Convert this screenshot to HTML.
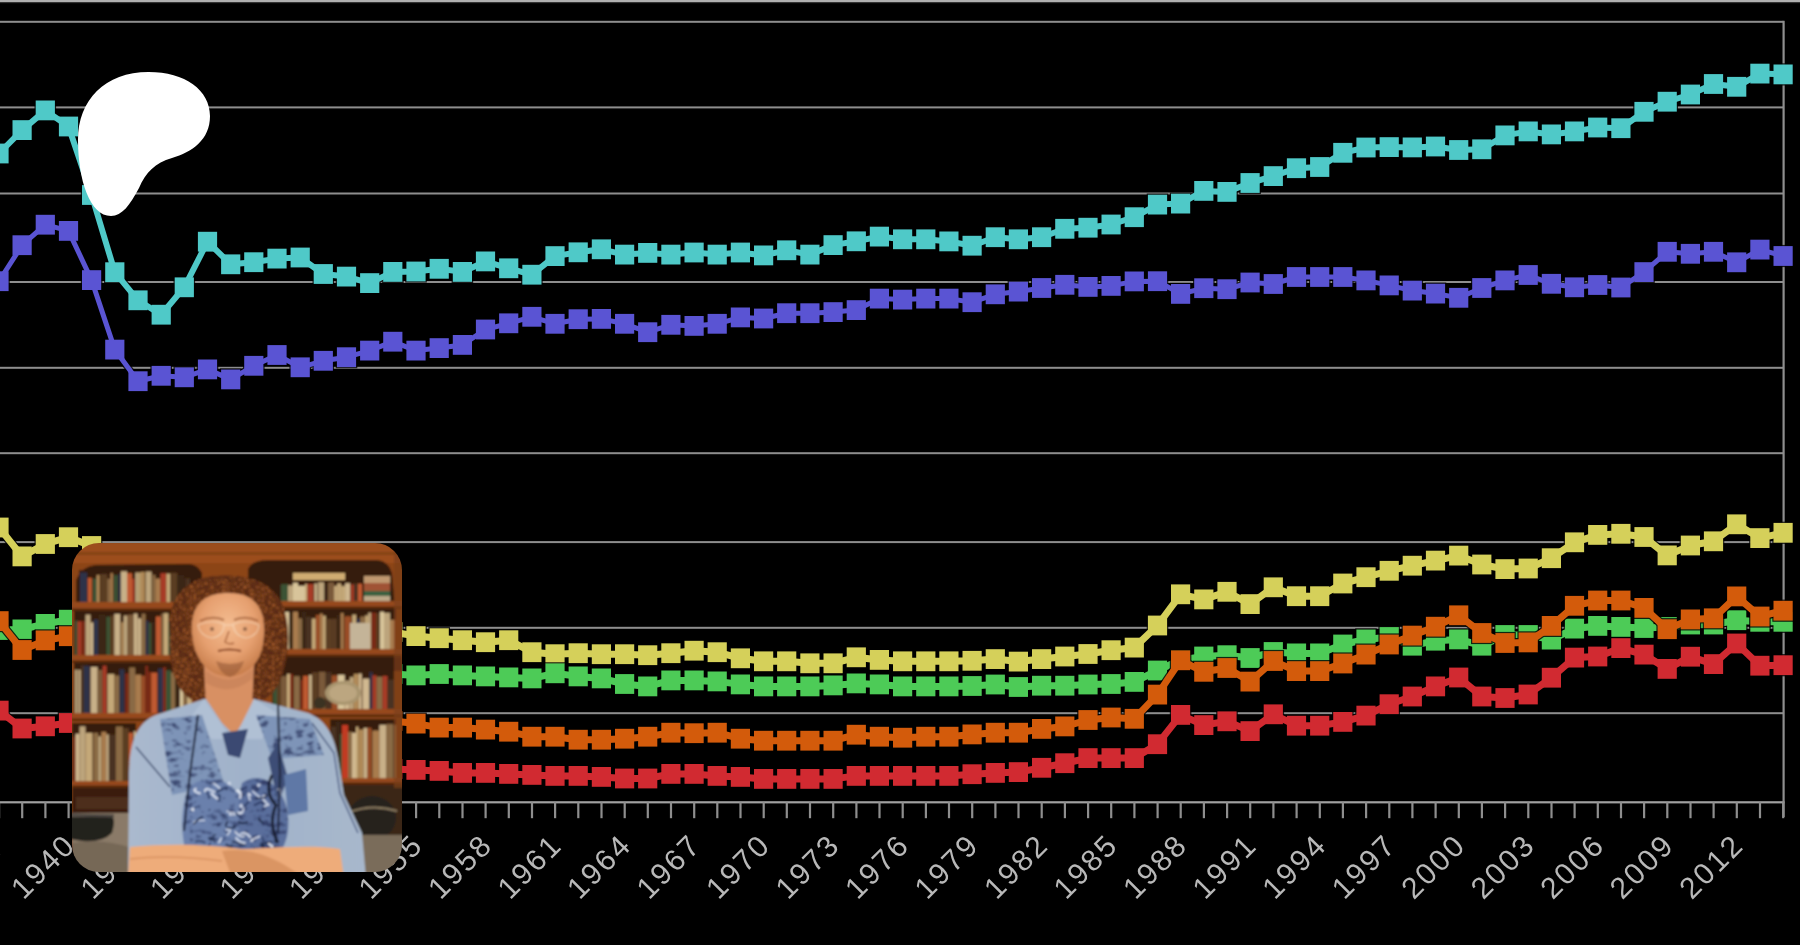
<!DOCTYPE html>
<html><head><meta charset="utf-8"><style>
html,body{margin:0;padding:0;background:#000;width:1800px;height:945px;overflow:hidden;position:relative}
</style></head><body>
<svg width="1800" height="945" viewBox="0 0 1800 945" style="position:absolute;left:0;top:0;filter:blur(0.6px)">
<rect x="0" y="0" width="1800" height="2.4" fill="#b0b0b0"/>
<rect x="0" y="2.4" width="1800" height="0.8" fill="#2a2a2a"/>
<rect x="0" y="20.8" width="1783.5" height="2" fill="#8e8e8e"/>
<rect x="0" y="106.4" width="1783.5" height="2" fill="#8e8e8e"/>
<rect x="0" y="192.5" width="1783.5" height="2" fill="#8e8e8e"/>
<rect x="0" y="281.0" width="1783.5" height="2" fill="#8e8e8e"/>
<rect x="0" y="366.8" width="1783.5" height="2" fill="#8e8e8e"/>
<rect x="0" y="452.2" width="1783.5" height="2" fill="#8e8e8e"/>
<rect x="0" y="541.1" width="1783.5" height="2" fill="#8e8e8e"/>
<rect x="0" y="626.8" width="1783.5" height="2" fill="#8e8e8e"/>
<rect x="0" y="712.2" width="1783.5" height="2" fill="#8e8e8e"/>
<rect x="0" y="801.2" width="1784.5" height="2.2" fill="#a0a0a0"/>
<rect x="1782.5" y="20.8" width="2.2" height="796.2" fill="#8e8e8e"/>
<rect x="-2.0" y="802.2" width="2.2" height="16" fill="#8e8e8e"/>
<rect x="21.1" y="802.2" width="2.2" height="16" fill="#8e8e8e"/>
<rect x="44.3" y="802.2" width="2.2" height="16" fill="#8e8e8e"/>
<rect x="67.5" y="802.2" width="2.2" height="16" fill="#8e8e8e"/>
<rect x="90.6" y="802.2" width="2.2" height="16" fill="#8e8e8e"/>
<rect x="113.8" y="802.2" width="2.2" height="16" fill="#8e8e8e"/>
<rect x="137.0" y="802.2" width="2.2" height="16" fill="#8e8e8e"/>
<rect x="160.2" y="802.2" width="2.2" height="16" fill="#8e8e8e"/>
<rect x="183.3" y="802.2" width="2.2" height="16" fill="#8e8e8e"/>
<rect x="206.5" y="802.2" width="2.2" height="16" fill="#8e8e8e"/>
<rect x="229.7" y="802.2" width="2.2" height="16" fill="#8e8e8e"/>
<rect x="252.8" y="802.2" width="2.2" height="16" fill="#8e8e8e"/>
<rect x="276.0" y="802.2" width="2.2" height="16" fill="#8e8e8e"/>
<rect x="299.2" y="802.2" width="2.2" height="16" fill="#8e8e8e"/>
<rect x="322.3" y="802.2" width="2.2" height="16" fill="#8e8e8e"/>
<rect x="345.5" y="802.2" width="2.2" height="16" fill="#8e8e8e"/>
<rect x="368.7" y="802.2" width="2.2" height="16" fill="#8e8e8e"/>
<rect x="391.9" y="802.2" width="2.2" height="16" fill="#8e8e8e"/>
<rect x="415.0" y="802.2" width="2.2" height="16" fill="#8e8e8e"/>
<rect x="438.2" y="802.2" width="2.2" height="16" fill="#8e8e8e"/>
<rect x="461.4" y="802.2" width="2.2" height="16" fill="#8e8e8e"/>
<rect x="484.5" y="802.2" width="2.2" height="16" fill="#8e8e8e"/>
<rect x="507.7" y="802.2" width="2.2" height="16" fill="#8e8e8e"/>
<rect x="530.9" y="802.2" width="2.2" height="16" fill="#8e8e8e"/>
<rect x="554.0" y="802.2" width="2.2" height="16" fill="#8e8e8e"/>
<rect x="577.2" y="802.2" width="2.2" height="16" fill="#8e8e8e"/>
<rect x="600.4" y="802.2" width="2.2" height="16" fill="#8e8e8e"/>
<rect x="623.6" y="802.2" width="2.2" height="16" fill="#8e8e8e"/>
<rect x="646.7" y="802.2" width="2.2" height="16" fill="#8e8e8e"/>
<rect x="669.9" y="802.2" width="2.2" height="16" fill="#8e8e8e"/>
<rect x="693.1" y="802.2" width="2.2" height="16" fill="#8e8e8e"/>
<rect x="716.2" y="802.2" width="2.2" height="16" fill="#8e8e8e"/>
<rect x="739.4" y="802.2" width="2.2" height="16" fill="#8e8e8e"/>
<rect x="762.6" y="802.2" width="2.2" height="16" fill="#8e8e8e"/>
<rect x="785.7" y="802.2" width="2.2" height="16" fill="#8e8e8e"/>
<rect x="808.9" y="802.2" width="2.2" height="16" fill="#8e8e8e"/>
<rect x="832.1" y="802.2" width="2.2" height="16" fill="#8e8e8e"/>
<rect x="855.3" y="802.2" width="2.2" height="16" fill="#8e8e8e"/>
<rect x="878.4" y="802.2" width="2.2" height="16" fill="#8e8e8e"/>
<rect x="901.6" y="802.2" width="2.2" height="16" fill="#8e8e8e"/>
<rect x="924.8" y="802.2" width="2.2" height="16" fill="#8e8e8e"/>
<rect x="947.9" y="802.2" width="2.2" height="16" fill="#8e8e8e"/>
<rect x="971.1" y="802.2" width="2.2" height="16" fill="#8e8e8e"/>
<rect x="994.3" y="802.2" width="2.2" height="16" fill="#8e8e8e"/>
<rect x="1017.4" y="802.2" width="2.2" height="16" fill="#8e8e8e"/>
<rect x="1040.6" y="802.2" width="2.2" height="16" fill="#8e8e8e"/>
<rect x="1063.8" y="802.2" width="2.2" height="16" fill="#8e8e8e"/>
<rect x="1087.0" y="802.2" width="2.2" height="16" fill="#8e8e8e"/>
<rect x="1110.1" y="802.2" width="2.2" height="16" fill="#8e8e8e"/>
<rect x="1133.3" y="802.2" width="2.2" height="16" fill="#8e8e8e"/>
<rect x="1156.5" y="802.2" width="2.2" height="16" fill="#8e8e8e"/>
<rect x="1179.6" y="802.2" width="2.2" height="16" fill="#8e8e8e"/>
<rect x="1202.8" y="802.2" width="2.2" height="16" fill="#8e8e8e"/>
<rect x="1226.0" y="802.2" width="2.2" height="16" fill="#8e8e8e"/>
<rect x="1249.1" y="802.2" width="2.2" height="16" fill="#8e8e8e"/>
<rect x="1272.3" y="802.2" width="2.2" height="16" fill="#8e8e8e"/>
<rect x="1295.5" y="802.2" width="2.2" height="16" fill="#8e8e8e"/>
<rect x="1318.7" y="802.2" width="2.2" height="16" fill="#8e8e8e"/>
<rect x="1341.8" y="802.2" width="2.2" height="16" fill="#8e8e8e"/>
<rect x="1365.0" y="802.2" width="2.2" height="16" fill="#8e8e8e"/>
<rect x="1388.2" y="802.2" width="2.2" height="16" fill="#8e8e8e"/>
<rect x="1411.3" y="802.2" width="2.2" height="16" fill="#8e8e8e"/>
<rect x="1434.5" y="802.2" width="2.2" height="16" fill="#8e8e8e"/>
<rect x="1457.7" y="802.2" width="2.2" height="16" fill="#8e8e8e"/>
<rect x="1480.8" y="802.2" width="2.2" height="16" fill="#8e8e8e"/>
<rect x="1504.0" y="802.2" width="2.2" height="16" fill="#8e8e8e"/>
<rect x="1527.2" y="802.2" width="2.2" height="16" fill="#8e8e8e"/>
<rect x="1550.4" y="802.2" width="2.2" height="16" fill="#8e8e8e"/>
<rect x="1573.5" y="802.2" width="2.2" height="16" fill="#8e8e8e"/>
<rect x="1596.7" y="802.2" width="2.2" height="16" fill="#8e8e8e"/>
<rect x="1619.9" y="802.2" width="2.2" height="16" fill="#8e8e8e"/>
<rect x="1643.0" y="802.2" width="2.2" height="16" fill="#8e8e8e"/>
<rect x="1666.2" y="802.2" width="2.2" height="16" fill="#8e8e8e"/>
<rect x="1689.4" y="802.2" width="2.2" height="16" fill="#8e8e8e"/>
<rect x="1712.5" y="802.2" width="2.2" height="16" fill="#8e8e8e"/>
<rect x="1735.7" y="802.2" width="2.2" height="16" fill="#8e8e8e"/>
<rect x="1758.9" y="802.2" width="2.2" height="16" fill="#8e8e8e"/>
<rect x="1782.1" y="802.2" width="2.2" height="16" fill="#8e8e8e"/>
<text x="0" y="0" transform="translate(-46.0,900.5) rotate(-45)" font-family="Liberation Sans" font-size="30" letter-spacing="2.4" fill="#b8b8b8">1937</text>
<text x="0" y="0" transform="translate(23.5,900.5) rotate(-45)" font-family="Liberation Sans" font-size="30" letter-spacing="2.4" fill="#b8b8b8">1940</text>
<text x="0" y="0" transform="translate(93.0,900.5) rotate(-45)" font-family="Liberation Sans" font-size="30" letter-spacing="2.4" fill="#b8b8b8">1943</text>
<text x="0" y="0" transform="translate(162.5,900.5) rotate(-45)" font-family="Liberation Sans" font-size="30" letter-spacing="2.4" fill="#b8b8b8">1946</text>
<text x="0" y="0" transform="translate(232.0,900.5) rotate(-45)" font-family="Liberation Sans" font-size="30" letter-spacing="2.4" fill="#b8b8b8">1949</text>
<text x="0" y="0" transform="translate(301.5,900.5) rotate(-45)" font-family="Liberation Sans" font-size="30" letter-spacing="2.4" fill="#b8b8b8">1952</text>
<text x="0" y="0" transform="translate(371.0,900.5) rotate(-45)" font-family="Liberation Sans" font-size="30" letter-spacing="2.4" fill="#b8b8b8">1955</text>
<text x="0" y="0" transform="translate(440.5,900.5) rotate(-45)" font-family="Liberation Sans" font-size="30" letter-spacing="2.4" fill="#b8b8b8">1958</text>
<text x="0" y="0" transform="translate(510.0,900.5) rotate(-45)" font-family="Liberation Sans" font-size="30" letter-spacing="2.4" fill="#b8b8b8">1961</text>
<text x="0" y="0" transform="translate(579.6,900.5) rotate(-45)" font-family="Liberation Sans" font-size="30" letter-spacing="2.4" fill="#b8b8b8">1964</text>
<text x="0" y="0" transform="translate(649.1,900.5) rotate(-45)" font-family="Liberation Sans" font-size="30" letter-spacing="2.4" fill="#b8b8b8">1967</text>
<text x="0" y="0" transform="translate(718.6,900.5) rotate(-45)" font-family="Liberation Sans" font-size="30" letter-spacing="2.4" fill="#b8b8b8">1970</text>
<text x="0" y="0" transform="translate(788.1,900.5) rotate(-45)" font-family="Liberation Sans" font-size="30" letter-spacing="2.4" fill="#b8b8b8">1973</text>
<text x="0" y="0" transform="translate(857.6,900.5) rotate(-45)" font-family="Liberation Sans" font-size="30" letter-spacing="2.4" fill="#b8b8b8">1976</text>
<text x="0" y="0" transform="translate(927.1,900.5) rotate(-45)" font-family="Liberation Sans" font-size="30" letter-spacing="2.4" fill="#b8b8b8">1979</text>
<text x="0" y="0" transform="translate(996.6,900.5) rotate(-45)" font-family="Liberation Sans" font-size="30" letter-spacing="2.4" fill="#b8b8b8">1982</text>
<text x="0" y="0" transform="translate(1066.1,900.5) rotate(-45)" font-family="Liberation Sans" font-size="30" letter-spacing="2.4" fill="#b8b8b8">1985</text>
<text x="0" y="0" transform="translate(1135.6,900.5) rotate(-45)" font-family="Liberation Sans" font-size="30" letter-spacing="2.4" fill="#b8b8b8">1988</text>
<text x="0" y="0" transform="translate(1205.1,900.5) rotate(-45)" font-family="Liberation Sans" font-size="30" letter-spacing="2.4" fill="#b8b8b8">1991</text>
<text x="0" y="0" transform="translate(1274.7,900.5) rotate(-45)" font-family="Liberation Sans" font-size="30" letter-spacing="2.4" fill="#b8b8b8">1994</text>
<text x="0" y="0" transform="translate(1344.2,900.5) rotate(-45)" font-family="Liberation Sans" font-size="30" letter-spacing="2.4" fill="#b8b8b8">1997</text>
<text x="0" y="0" transform="translate(1413.7,900.5) rotate(-45)" font-family="Liberation Sans" font-size="30" letter-spacing="2.4" fill="#b8b8b8">2000</text>
<text x="0" y="0" transform="translate(1483.2,900.5) rotate(-45)" font-family="Liberation Sans" font-size="30" letter-spacing="2.4" fill="#b8b8b8">2003</text>
<text x="0" y="0" transform="translate(1552.7,900.5) rotate(-45)" font-family="Liberation Sans" font-size="30" letter-spacing="2.4" fill="#b8b8b8">2006</text>
<text x="0" y="0" transform="translate(1622.2,900.5) rotate(-45)" font-family="Liberation Sans" font-size="30" letter-spacing="2.4" fill="#b8b8b8">2009</text>
<text x="0" y="0" transform="translate(1691.7,900.5) rotate(-45)" font-family="Liberation Sans" font-size="30" letter-spacing="2.4" fill="#b8b8b8">2012</text>
<g opacity="0.8"><polyline points="-1.0,527.5 22.1,556.4 45.3,544.0 68.5,537.2 91.6,546.0 114.8,562.0 138.0,567.8 161.2,573.7 184.3,579.5 207.5,585.3 230.7,591.2 253.8,597.0 277.0,602.8 300.2,608.7 323.3,614.5 346.5,620.3 369.7,626.2 392.9,632.0 416.0,636.1 439.2,638.2 462.4,640.2 485.5,642.2 508.7,640.2 531.9,652.2 555.0,654.2 578.2,653.2 601.4,654.2 624.6,654.2 647.7,655.2 670.9,653.2 694.1,650.7 717.2,652.2 740.4,658.3 763.6,661.3 786.7,661.3 809.9,663.3 833.1,663.3 856.3,657.3 879.4,659.9 902.6,661.3 925.8,661.3 948.9,661.3 972.1,660.8 995.3,659.1 1018.4,661.6 1041.6,659.1 1064.8,656.5 1088.0,654.0 1111.1,650.2 1134.3,647.6 1157.5,625.5 1180.6,594.3 1203.8,599.4 1227.0,591.8 1250.1,604.1 1273.3,587.3 1296.5,596.2 1319.7,596.2 1342.8,583.5 1366.0,577.2 1389.2,570.8 1412.3,565.7 1435.5,560.6 1458.7,555.6 1481.8,564.5 1505.0,569.1 1528.2,568.5 1551.4,558.2 1574.5,542.3 1597.7,534.9 1620.9,533.8 1644.0,537.0 1667.2,555.4 1690.4,545.5 1713.5,541.3 1736.7,524.3 1759.9,538.1 1783.1,532.8" fill="none" stroke="#000" stroke-width="9.4" stroke-linejoin="round"/>
<rect x="-11.8" y="516.4" width="21.6" height="22.2" fill="#000"/>
<rect x="11.3" y="545.3" width="21.6" height="22.2" fill="#000"/>
<rect x="34.5" y="532.9" width="21.6" height="22.2" fill="#000"/>
<rect x="57.7" y="526.1" width="21.6" height="22.2" fill="#000"/>
<rect x="80.8" y="534.9" width="21.6" height="22.2" fill="#000"/>
<rect x="104.0" y="550.9" width="21.6" height="22.2" fill="#000"/>
<rect x="127.2" y="556.7" width="21.6" height="22.2" fill="#000"/>
<rect x="150.4" y="562.6" width="21.6" height="22.2" fill="#000"/>
<rect x="173.5" y="568.4" width="21.6" height="22.2" fill="#000"/>
<rect x="196.7" y="574.2" width="21.6" height="22.2" fill="#000"/>
<rect x="219.9" y="580.1" width="21.6" height="22.2" fill="#000"/>
<rect x="243.0" y="585.9" width="21.6" height="22.2" fill="#000"/>
<rect x="266.2" y="591.7" width="21.6" height="22.2" fill="#000"/>
<rect x="289.4" y="597.6" width="21.6" height="22.2" fill="#000"/>
<rect x="312.5" y="603.4" width="21.6" height="22.2" fill="#000"/>
<rect x="335.7" y="609.2" width="21.6" height="22.2" fill="#000"/>
<rect x="358.9" y="615.1" width="21.6" height="22.2" fill="#000"/>
<rect x="382.1" y="620.9" width="21.6" height="22.2" fill="#000"/>
<rect x="405.2" y="625.0" width="21.6" height="22.2" fill="#000"/>
<rect x="428.4" y="627.1" width="21.6" height="22.2" fill="#000"/>
<rect x="451.6" y="629.1" width="21.6" height="22.2" fill="#000"/>
<rect x="474.7" y="631.1" width="21.6" height="22.2" fill="#000"/>
<rect x="497.9" y="629.1" width="21.6" height="22.2" fill="#000"/>
<rect x="521.1" y="641.1" width="21.6" height="22.2" fill="#000"/>
<rect x="544.2" y="643.1" width="21.6" height="22.2" fill="#000"/>
<rect x="567.4" y="642.1" width="21.6" height="22.2" fill="#000"/>
<rect x="590.6" y="643.1" width="21.6" height="22.2" fill="#000"/>
<rect x="613.8" y="643.1" width="21.6" height="22.2" fill="#000"/>
<rect x="636.9" y="644.1" width="21.6" height="22.2" fill="#000"/>
<rect x="660.1" y="642.1" width="21.6" height="22.2" fill="#000"/>
<rect x="683.3" y="639.6" width="21.6" height="22.2" fill="#000"/>
<rect x="706.4" y="641.1" width="21.6" height="22.2" fill="#000"/>
<rect x="729.6" y="647.2" width="21.6" height="22.2" fill="#000"/>
<rect x="752.8" y="650.2" width="21.6" height="22.2" fill="#000"/>
<rect x="775.9" y="650.2" width="21.6" height="22.2" fill="#000"/>
<rect x="799.1" y="652.2" width="21.6" height="22.2" fill="#000"/>
<rect x="822.3" y="652.2" width="21.6" height="22.2" fill="#000"/>
<rect x="845.5" y="646.2" width="21.6" height="22.2" fill="#000"/>
<rect x="868.6" y="648.8" width="21.6" height="22.2" fill="#000"/>
<rect x="891.8" y="650.2" width="21.6" height="22.2" fill="#000"/>
<rect x="915.0" y="650.2" width="21.6" height="22.2" fill="#000"/>
<rect x="938.1" y="650.2" width="21.6" height="22.2" fill="#000"/>
<rect x="961.3" y="649.7" width="21.6" height="22.2" fill="#000"/>
<rect x="984.5" y="648.0" width="21.6" height="22.2" fill="#000"/>
<rect x="1007.6" y="650.5" width="21.6" height="22.2" fill="#000"/>
<rect x="1030.8" y="648.0" width="21.6" height="22.2" fill="#000"/>
<rect x="1054.0" y="645.4" width="21.6" height="22.2" fill="#000"/>
<rect x="1077.2" y="642.9" width="21.6" height="22.2" fill="#000"/>
<rect x="1100.3" y="639.1" width="21.6" height="22.2" fill="#000"/>
<rect x="1123.5" y="636.5" width="21.6" height="22.2" fill="#000"/>
<rect x="1146.7" y="614.4" width="21.6" height="22.2" fill="#000"/>
<rect x="1169.8" y="583.2" width="21.6" height="22.2" fill="#000"/>
<rect x="1193.0" y="588.3" width="21.6" height="22.2" fill="#000"/>
<rect x="1216.2" y="580.7" width="21.6" height="22.2" fill="#000"/>
<rect x="1239.3" y="593.0" width="21.6" height="22.2" fill="#000"/>
<rect x="1262.5" y="576.2" width="21.6" height="22.2" fill="#000"/>
<rect x="1285.7" y="585.1" width="21.6" height="22.2" fill="#000"/>
<rect x="1308.9" y="585.1" width="21.6" height="22.2" fill="#000"/>
<rect x="1332.0" y="572.4" width="21.6" height="22.2" fill="#000"/>
<rect x="1355.2" y="566.1" width="21.6" height="22.2" fill="#000"/>
<rect x="1378.4" y="559.7" width="21.6" height="22.2" fill="#000"/>
<rect x="1401.5" y="554.6" width="21.6" height="22.2" fill="#000"/>
<rect x="1424.7" y="549.5" width="21.6" height="22.2" fill="#000"/>
<rect x="1447.9" y="544.5" width="21.6" height="22.2" fill="#000"/>
<rect x="1471.0" y="553.4" width="21.6" height="22.2" fill="#000"/>
<rect x="1494.2" y="558.0" width="21.6" height="22.2" fill="#000"/>
<rect x="1517.4" y="557.4" width="21.6" height="22.2" fill="#000"/>
<rect x="1540.6" y="547.1" width="21.6" height="22.2" fill="#000"/>
<rect x="1563.7" y="531.2" width="21.6" height="22.2" fill="#000"/>
<rect x="1586.9" y="523.8" width="21.6" height="22.2" fill="#000"/>
<rect x="1610.1" y="522.7" width="21.6" height="22.2" fill="#000"/>
<rect x="1633.2" y="525.9" width="21.6" height="22.2" fill="#000"/>
<rect x="1656.4" y="544.3" width="21.6" height="22.2" fill="#000"/>
<rect x="1679.6" y="534.4" width="21.6" height="22.2" fill="#000"/>
<rect x="1702.7" y="530.2" width="21.6" height="22.2" fill="#000"/>
<rect x="1725.9" y="513.2" width="21.6" height="22.2" fill="#000"/>
<rect x="1749.1" y="527.0" width="21.6" height="22.2" fill="#000"/>
<rect x="1772.3" y="521.7" width="21.6" height="22.2" fill="#000"/>
</g>
<polyline points="-1.0,527.5 22.1,556.4 45.3,544.0 68.5,537.2 91.6,546.0 114.8,562.0 138.0,567.8 161.2,573.7 184.3,579.5 207.5,585.3 230.7,591.2 253.8,597.0 277.0,602.8 300.2,608.7 323.3,614.5 346.5,620.3 369.7,626.2 392.9,632.0 416.0,636.1 439.2,638.2 462.4,640.2 485.5,642.2 508.7,640.2 531.9,652.2 555.0,654.2 578.2,653.2 601.4,654.2 624.6,654.2 647.7,655.2 670.9,653.2 694.1,650.7 717.2,652.2 740.4,658.3 763.6,661.3 786.7,661.3 809.9,663.3 833.1,663.3 856.3,657.3 879.4,659.9 902.6,661.3 925.8,661.3 948.9,661.3 972.1,660.8 995.3,659.1 1018.4,661.6 1041.6,659.1 1064.8,656.5 1088.0,654.0 1111.1,650.2 1134.3,647.6 1157.5,625.5 1180.6,594.3 1203.8,599.4 1227.0,591.8 1250.1,604.1 1273.3,587.3 1296.5,596.2 1319.7,596.2 1342.8,583.5 1366.0,577.2 1389.2,570.8 1412.3,565.7 1435.5,560.6 1458.7,555.6 1481.8,564.5 1505.0,569.1 1528.2,568.5 1551.4,558.2 1574.5,542.3 1597.7,534.9 1620.9,533.8 1644.0,537.0 1667.2,555.4 1690.4,545.5 1713.5,541.3 1736.7,524.3 1759.9,538.1 1783.1,532.8" fill="none" stroke="#d5d05a" stroke-width="7" stroke-linejoin="round"/>
<rect x="-10.6" y="517.6" width="19.2" height="19.8" fill="#d5d05a"/>
<rect x="12.5" y="546.5" width="19.2" height="19.8" fill="#d5d05a"/>
<rect x="35.7" y="534.1" width="19.2" height="19.8" fill="#d5d05a"/>
<rect x="58.9" y="527.3" width="19.2" height="19.8" fill="#d5d05a"/>
<rect x="82.0" y="536.1" width="19.2" height="19.8" fill="#d5d05a"/>
<rect x="105.2" y="552.1" width="19.2" height="19.8" fill="#d5d05a"/>
<rect x="128.4" y="557.9" width="19.2" height="19.8" fill="#d5d05a"/>
<rect x="151.6" y="563.8" width="19.2" height="19.8" fill="#d5d05a"/>
<rect x="174.7" y="569.6" width="19.2" height="19.8" fill="#d5d05a"/>
<rect x="197.9" y="575.4" width="19.2" height="19.8" fill="#d5d05a"/>
<rect x="221.1" y="581.3" width="19.2" height="19.8" fill="#d5d05a"/>
<rect x="244.2" y="587.1" width="19.2" height="19.8" fill="#d5d05a"/>
<rect x="267.4" y="592.9" width="19.2" height="19.8" fill="#d5d05a"/>
<rect x="290.6" y="598.8" width="19.2" height="19.8" fill="#d5d05a"/>
<rect x="313.7" y="604.6" width="19.2" height="19.8" fill="#d5d05a"/>
<rect x="336.9" y="610.4" width="19.2" height="19.8" fill="#d5d05a"/>
<rect x="360.1" y="616.3" width="19.2" height="19.8" fill="#d5d05a"/>
<rect x="383.2" y="622.1" width="19.2" height="19.8" fill="#d5d05a"/>
<rect x="406.4" y="626.2" width="19.2" height="19.8" fill="#d5d05a"/>
<rect x="429.6" y="628.3" width="19.2" height="19.8" fill="#d5d05a"/>
<rect x="452.8" y="630.3" width="19.2" height="19.8" fill="#d5d05a"/>
<rect x="475.9" y="632.3" width="19.2" height="19.8" fill="#d5d05a"/>
<rect x="499.1" y="630.3" width="19.2" height="19.8" fill="#d5d05a"/>
<rect x="522.3" y="642.3" width="19.2" height="19.8" fill="#d5d05a"/>
<rect x="545.4" y="644.3" width="19.2" height="19.8" fill="#d5d05a"/>
<rect x="568.6" y="643.3" width="19.2" height="19.8" fill="#d5d05a"/>
<rect x="591.8" y="644.3" width="19.2" height="19.8" fill="#d5d05a"/>
<rect x="615.0" y="644.3" width="19.2" height="19.8" fill="#d5d05a"/>
<rect x="638.1" y="645.3" width="19.2" height="19.8" fill="#d5d05a"/>
<rect x="661.3" y="643.3" width="19.2" height="19.8" fill="#d5d05a"/>
<rect x="684.5" y="640.8" width="19.2" height="19.8" fill="#d5d05a"/>
<rect x="707.6" y="642.3" width="19.2" height="19.8" fill="#d5d05a"/>
<rect x="730.8" y="648.4" width="19.2" height="19.8" fill="#d5d05a"/>
<rect x="754.0" y="651.4" width="19.2" height="19.8" fill="#d5d05a"/>
<rect x="777.1" y="651.4" width="19.2" height="19.8" fill="#d5d05a"/>
<rect x="800.3" y="653.4" width="19.2" height="19.8" fill="#d5d05a"/>
<rect x="823.5" y="653.4" width="19.2" height="19.8" fill="#d5d05a"/>
<rect x="846.7" y="647.4" width="19.2" height="19.8" fill="#d5d05a"/>
<rect x="869.8" y="650.0" width="19.2" height="19.8" fill="#d5d05a"/>
<rect x="893.0" y="651.4" width="19.2" height="19.8" fill="#d5d05a"/>
<rect x="916.2" y="651.4" width="19.2" height="19.8" fill="#d5d05a"/>
<rect x="939.3" y="651.4" width="19.2" height="19.8" fill="#d5d05a"/>
<rect x="962.5" y="650.9" width="19.2" height="19.8" fill="#d5d05a"/>
<rect x="985.7" y="649.2" width="19.2" height="19.8" fill="#d5d05a"/>
<rect x="1008.8" y="651.7" width="19.2" height="19.8" fill="#d5d05a"/>
<rect x="1032.0" y="649.2" width="19.2" height="19.8" fill="#d5d05a"/>
<rect x="1055.2" y="646.6" width="19.2" height="19.8" fill="#d5d05a"/>
<rect x="1078.4" y="644.1" width="19.2" height="19.8" fill="#d5d05a"/>
<rect x="1101.5" y="640.3" width="19.2" height="19.8" fill="#d5d05a"/>
<rect x="1124.7" y="637.7" width="19.2" height="19.8" fill="#d5d05a"/>
<rect x="1147.9" y="615.6" width="19.2" height="19.8" fill="#d5d05a"/>
<rect x="1171.0" y="584.4" width="19.2" height="19.8" fill="#d5d05a"/>
<rect x="1194.2" y="589.5" width="19.2" height="19.8" fill="#d5d05a"/>
<rect x="1217.4" y="581.9" width="19.2" height="19.8" fill="#d5d05a"/>
<rect x="1240.5" y="594.2" width="19.2" height="19.8" fill="#d5d05a"/>
<rect x="1263.7" y="577.4" width="19.2" height="19.8" fill="#d5d05a"/>
<rect x="1286.9" y="586.3" width="19.2" height="19.8" fill="#d5d05a"/>
<rect x="1310.1" y="586.3" width="19.2" height="19.8" fill="#d5d05a"/>
<rect x="1333.2" y="573.6" width="19.2" height="19.8" fill="#d5d05a"/>
<rect x="1356.4" y="567.3" width="19.2" height="19.8" fill="#d5d05a"/>
<rect x="1379.6" y="560.9" width="19.2" height="19.8" fill="#d5d05a"/>
<rect x="1402.7" y="555.8" width="19.2" height="19.8" fill="#d5d05a"/>
<rect x="1425.9" y="550.7" width="19.2" height="19.8" fill="#d5d05a"/>
<rect x="1449.1" y="545.7" width="19.2" height="19.8" fill="#d5d05a"/>
<rect x="1472.2" y="554.6" width="19.2" height="19.8" fill="#d5d05a"/>
<rect x="1495.4" y="559.2" width="19.2" height="19.8" fill="#d5d05a"/>
<rect x="1518.6" y="558.6" width="19.2" height="19.8" fill="#d5d05a"/>
<rect x="1541.8" y="548.3" width="19.2" height="19.8" fill="#d5d05a"/>
<rect x="1564.9" y="532.4" width="19.2" height="19.8" fill="#d5d05a"/>
<rect x="1588.1" y="525.0" width="19.2" height="19.8" fill="#d5d05a"/>
<rect x="1611.3" y="523.9" width="19.2" height="19.8" fill="#d5d05a"/>
<rect x="1634.4" y="527.1" width="19.2" height="19.8" fill="#d5d05a"/>
<rect x="1657.6" y="545.5" width="19.2" height="19.8" fill="#d5d05a"/>
<rect x="1680.8" y="535.6" width="19.2" height="19.8" fill="#d5d05a"/>
<rect x="1703.9" y="531.4" width="19.2" height="19.8" fill="#d5d05a"/>
<rect x="1727.1" y="514.4" width="19.2" height="19.8" fill="#d5d05a"/>
<rect x="1750.3" y="528.2" width="19.2" height="19.8" fill="#d5d05a"/>
<rect x="1773.5" y="522.9" width="19.2" height="19.8" fill="#d5d05a"/>
<g opacity="0.8"><polyline points="-1.0,630.0 22.1,629.4 45.3,623.9 68.5,619.7 91.6,623.6 114.8,627.5 138.0,631.3 161.2,635.2 184.3,639.1 207.5,643.0 230.7,646.9 253.8,650.7 277.0,654.6 300.2,658.5 323.3,662.4 346.5,666.2 369.7,670.1 392.9,674.0 416.0,675.4 439.2,674.0 462.4,675.4 485.5,676.4 508.7,677.4 531.9,678.4 555.0,673.3 578.2,676.4 601.4,678.4 624.6,684.0 647.7,686.4 670.9,680.4 694.1,680.4 717.2,681.4 740.4,684.4 763.6,686.4 786.7,686.4 809.9,686.4 833.1,685.4 856.3,683.4 879.4,684.4 902.6,686.4 925.8,686.4 948.9,686.4 972.1,686.0 995.3,684.5 1018.4,687.0 1041.6,685.7 1064.8,685.7 1088.0,684.5 1111.1,684.0 1134.3,681.9 1157.5,670.5 1180.6,660.0 1203.8,656.5 1227.0,655.2 1250.1,658.0 1273.3,652.0 1296.5,653.4 1319.7,653.4 1342.8,644.5 1366.0,639.4 1389.2,637.0 1412.3,645.7 1435.5,640.7 1458.7,639.4 1481.8,645.7 1505.0,635.0 1528.2,635.0 1551.4,639.6 1574.5,628.6 1597.7,625.9 1620.9,626.9 1644.0,628.0 1667.2,627.0 1690.4,624.5 1713.5,624.5 1736.7,620.2 1759.9,621.8 1783.1,621.8" fill="none" stroke="#000" stroke-width="9.4" stroke-linejoin="round"/>
<rect x="-11.8" y="618.9" width="21.6" height="22.2" fill="#000"/>
<rect x="11.3" y="618.3" width="21.6" height="22.2" fill="#000"/>
<rect x="34.5" y="612.8" width="21.6" height="22.2" fill="#000"/>
<rect x="57.7" y="608.6" width="21.6" height="22.2" fill="#000"/>
<rect x="80.8" y="612.5" width="21.6" height="22.2" fill="#000"/>
<rect x="104.0" y="616.4" width="21.6" height="22.2" fill="#000"/>
<rect x="127.2" y="620.2" width="21.6" height="22.2" fill="#000"/>
<rect x="150.4" y="624.1" width="21.6" height="22.2" fill="#000"/>
<rect x="173.5" y="628.0" width="21.6" height="22.2" fill="#000"/>
<rect x="196.7" y="631.9" width="21.6" height="22.2" fill="#000"/>
<rect x="219.9" y="635.8" width="21.6" height="22.2" fill="#000"/>
<rect x="243.0" y="639.6" width="21.6" height="22.2" fill="#000"/>
<rect x="266.2" y="643.5" width="21.6" height="22.2" fill="#000"/>
<rect x="289.4" y="647.4" width="21.6" height="22.2" fill="#000"/>
<rect x="312.5" y="651.3" width="21.6" height="22.2" fill="#000"/>
<rect x="335.7" y="655.1" width="21.6" height="22.2" fill="#000"/>
<rect x="358.9" y="659.0" width="21.6" height="22.2" fill="#000"/>
<rect x="382.1" y="662.9" width="21.6" height="22.2" fill="#000"/>
<rect x="405.2" y="664.3" width="21.6" height="22.2" fill="#000"/>
<rect x="428.4" y="662.9" width="21.6" height="22.2" fill="#000"/>
<rect x="451.6" y="664.3" width="21.6" height="22.2" fill="#000"/>
<rect x="474.7" y="665.3" width="21.6" height="22.2" fill="#000"/>
<rect x="497.9" y="666.3" width="21.6" height="22.2" fill="#000"/>
<rect x="521.1" y="667.3" width="21.6" height="22.2" fill="#000"/>
<rect x="544.2" y="662.2" width="21.6" height="22.2" fill="#000"/>
<rect x="567.4" y="665.3" width="21.6" height="22.2" fill="#000"/>
<rect x="590.6" y="667.3" width="21.6" height="22.2" fill="#000"/>
<rect x="613.8" y="672.9" width="21.6" height="22.2" fill="#000"/>
<rect x="636.9" y="675.3" width="21.6" height="22.2" fill="#000"/>
<rect x="660.1" y="669.3" width="21.6" height="22.2" fill="#000"/>
<rect x="683.3" y="669.3" width="21.6" height="22.2" fill="#000"/>
<rect x="706.4" y="670.3" width="21.6" height="22.2" fill="#000"/>
<rect x="729.6" y="673.3" width="21.6" height="22.2" fill="#000"/>
<rect x="752.8" y="675.3" width="21.6" height="22.2" fill="#000"/>
<rect x="775.9" y="675.3" width="21.6" height="22.2" fill="#000"/>
<rect x="799.1" y="675.3" width="21.6" height="22.2" fill="#000"/>
<rect x="822.3" y="674.3" width="21.6" height="22.2" fill="#000"/>
<rect x="845.5" y="672.3" width="21.6" height="22.2" fill="#000"/>
<rect x="868.6" y="673.3" width="21.6" height="22.2" fill="#000"/>
<rect x="891.8" y="675.3" width="21.6" height="22.2" fill="#000"/>
<rect x="915.0" y="675.3" width="21.6" height="22.2" fill="#000"/>
<rect x="938.1" y="675.3" width="21.6" height="22.2" fill="#000"/>
<rect x="961.3" y="674.9" width="21.6" height="22.2" fill="#000"/>
<rect x="984.5" y="673.4" width="21.6" height="22.2" fill="#000"/>
<rect x="1007.6" y="675.9" width="21.6" height="22.2" fill="#000"/>
<rect x="1030.8" y="674.6" width="21.6" height="22.2" fill="#000"/>
<rect x="1054.0" y="674.6" width="21.6" height="22.2" fill="#000"/>
<rect x="1077.2" y="673.4" width="21.6" height="22.2" fill="#000"/>
<rect x="1100.3" y="672.9" width="21.6" height="22.2" fill="#000"/>
<rect x="1123.5" y="670.8" width="21.6" height="22.2" fill="#000"/>
<rect x="1146.7" y="659.4" width="21.6" height="22.2" fill="#000"/>
<rect x="1169.8" y="648.9" width="21.6" height="22.2" fill="#000"/>
<rect x="1193.0" y="645.4" width="21.6" height="22.2" fill="#000"/>
<rect x="1216.2" y="644.1" width="21.6" height="22.2" fill="#000"/>
<rect x="1239.3" y="646.9" width="21.6" height="22.2" fill="#000"/>
<rect x="1262.5" y="640.9" width="21.6" height="22.2" fill="#000"/>
<rect x="1285.7" y="642.3" width="21.6" height="22.2" fill="#000"/>
<rect x="1308.9" y="642.3" width="21.6" height="22.2" fill="#000"/>
<rect x="1332.0" y="633.4" width="21.6" height="22.2" fill="#000"/>
<rect x="1355.2" y="628.3" width="21.6" height="22.2" fill="#000"/>
<rect x="1378.4" y="625.9" width="21.6" height="22.2" fill="#000"/>
<rect x="1401.5" y="634.6" width="21.6" height="22.2" fill="#000"/>
<rect x="1424.7" y="629.6" width="21.6" height="22.2" fill="#000"/>
<rect x="1447.9" y="628.3" width="21.6" height="22.2" fill="#000"/>
<rect x="1471.0" y="634.6" width="21.6" height="22.2" fill="#000"/>
<rect x="1494.2" y="623.9" width="21.6" height="22.2" fill="#000"/>
<rect x="1517.4" y="623.9" width="21.6" height="22.2" fill="#000"/>
<rect x="1540.6" y="628.5" width="21.6" height="22.2" fill="#000"/>
<rect x="1563.7" y="617.5" width="21.6" height="22.2" fill="#000"/>
<rect x="1586.9" y="614.8" width="21.6" height="22.2" fill="#000"/>
<rect x="1610.1" y="615.8" width="21.6" height="22.2" fill="#000"/>
<rect x="1633.2" y="616.9" width="21.6" height="22.2" fill="#000"/>
<rect x="1656.4" y="615.9" width="21.6" height="22.2" fill="#000"/>
<rect x="1679.6" y="613.4" width="21.6" height="22.2" fill="#000"/>
<rect x="1702.7" y="613.4" width="21.6" height="22.2" fill="#000"/>
<rect x="1725.9" y="609.1" width="21.6" height="22.2" fill="#000"/>
<rect x="1749.1" y="610.7" width="21.6" height="22.2" fill="#000"/>
<rect x="1772.3" y="610.7" width="21.6" height="22.2" fill="#000"/>
</g>
<polyline points="-1.0,630.0 22.1,629.4 45.3,623.9 68.5,619.7 91.6,623.6 114.8,627.5 138.0,631.3 161.2,635.2 184.3,639.1 207.5,643.0 230.7,646.9 253.8,650.7 277.0,654.6 300.2,658.5 323.3,662.4 346.5,666.2 369.7,670.1 392.9,674.0 416.0,675.4 439.2,674.0 462.4,675.4 485.5,676.4 508.7,677.4 531.9,678.4 555.0,673.3 578.2,676.4 601.4,678.4 624.6,684.0 647.7,686.4 670.9,680.4 694.1,680.4 717.2,681.4 740.4,684.4 763.6,686.4 786.7,686.4 809.9,686.4 833.1,685.4 856.3,683.4 879.4,684.4 902.6,686.4 925.8,686.4 948.9,686.4 972.1,686.0 995.3,684.5 1018.4,687.0 1041.6,685.7 1064.8,685.7 1088.0,684.5 1111.1,684.0 1134.3,681.9 1157.5,670.5 1180.6,660.0 1203.8,656.5 1227.0,655.2 1250.1,658.0 1273.3,652.0 1296.5,653.4 1319.7,653.4 1342.8,644.5 1366.0,639.4 1389.2,637.0 1412.3,645.7 1435.5,640.7 1458.7,639.4 1481.8,645.7 1505.0,635.0 1528.2,635.0 1551.4,639.6 1574.5,628.6 1597.7,625.9 1620.9,626.9 1644.0,628.0 1667.2,627.0 1690.4,624.5 1713.5,624.5 1736.7,620.2 1759.9,621.8 1783.1,621.8" fill="none" stroke="#4dcb57" stroke-width="7" stroke-linejoin="round"/>
<rect x="-10.6" y="620.1" width="19.2" height="19.8" fill="#4dcb57"/>
<rect x="12.5" y="619.5" width="19.2" height="19.8" fill="#4dcb57"/>
<rect x="35.7" y="614.0" width="19.2" height="19.8" fill="#4dcb57"/>
<rect x="58.9" y="609.8" width="19.2" height="19.8" fill="#4dcb57"/>
<rect x="82.0" y="613.7" width="19.2" height="19.8" fill="#4dcb57"/>
<rect x="105.2" y="617.6" width="19.2" height="19.8" fill="#4dcb57"/>
<rect x="128.4" y="621.4" width="19.2" height="19.8" fill="#4dcb57"/>
<rect x="151.6" y="625.3" width="19.2" height="19.8" fill="#4dcb57"/>
<rect x="174.7" y="629.2" width="19.2" height="19.8" fill="#4dcb57"/>
<rect x="197.9" y="633.1" width="19.2" height="19.8" fill="#4dcb57"/>
<rect x="221.1" y="637.0" width="19.2" height="19.8" fill="#4dcb57"/>
<rect x="244.2" y="640.8" width="19.2" height="19.8" fill="#4dcb57"/>
<rect x="267.4" y="644.7" width="19.2" height="19.8" fill="#4dcb57"/>
<rect x="290.6" y="648.6" width="19.2" height="19.8" fill="#4dcb57"/>
<rect x="313.7" y="652.5" width="19.2" height="19.8" fill="#4dcb57"/>
<rect x="336.9" y="656.3" width="19.2" height="19.8" fill="#4dcb57"/>
<rect x="360.1" y="660.2" width="19.2" height="19.8" fill="#4dcb57"/>
<rect x="383.2" y="664.1" width="19.2" height="19.8" fill="#4dcb57"/>
<rect x="406.4" y="665.5" width="19.2" height="19.8" fill="#4dcb57"/>
<rect x="429.6" y="664.1" width="19.2" height="19.8" fill="#4dcb57"/>
<rect x="452.8" y="665.5" width="19.2" height="19.8" fill="#4dcb57"/>
<rect x="475.9" y="666.5" width="19.2" height="19.8" fill="#4dcb57"/>
<rect x="499.1" y="667.5" width="19.2" height="19.8" fill="#4dcb57"/>
<rect x="522.3" y="668.5" width="19.2" height="19.8" fill="#4dcb57"/>
<rect x="545.4" y="663.4" width="19.2" height="19.8" fill="#4dcb57"/>
<rect x="568.6" y="666.5" width="19.2" height="19.8" fill="#4dcb57"/>
<rect x="591.8" y="668.5" width="19.2" height="19.8" fill="#4dcb57"/>
<rect x="615.0" y="674.1" width="19.2" height="19.8" fill="#4dcb57"/>
<rect x="638.1" y="676.5" width="19.2" height="19.8" fill="#4dcb57"/>
<rect x="661.3" y="670.5" width="19.2" height="19.8" fill="#4dcb57"/>
<rect x="684.5" y="670.5" width="19.2" height="19.8" fill="#4dcb57"/>
<rect x="707.6" y="671.5" width="19.2" height="19.8" fill="#4dcb57"/>
<rect x="730.8" y="674.5" width="19.2" height="19.8" fill="#4dcb57"/>
<rect x="754.0" y="676.5" width="19.2" height="19.8" fill="#4dcb57"/>
<rect x="777.1" y="676.5" width="19.2" height="19.8" fill="#4dcb57"/>
<rect x="800.3" y="676.5" width="19.2" height="19.8" fill="#4dcb57"/>
<rect x="823.5" y="675.5" width="19.2" height="19.8" fill="#4dcb57"/>
<rect x="846.7" y="673.5" width="19.2" height="19.8" fill="#4dcb57"/>
<rect x="869.8" y="674.5" width="19.2" height="19.8" fill="#4dcb57"/>
<rect x="893.0" y="676.5" width="19.2" height="19.8" fill="#4dcb57"/>
<rect x="916.2" y="676.5" width="19.2" height="19.8" fill="#4dcb57"/>
<rect x="939.3" y="676.5" width="19.2" height="19.8" fill="#4dcb57"/>
<rect x="962.5" y="676.1" width="19.2" height="19.8" fill="#4dcb57"/>
<rect x="985.7" y="674.6" width="19.2" height="19.8" fill="#4dcb57"/>
<rect x="1008.8" y="677.1" width="19.2" height="19.8" fill="#4dcb57"/>
<rect x="1032.0" y="675.8" width="19.2" height="19.8" fill="#4dcb57"/>
<rect x="1055.2" y="675.8" width="19.2" height="19.8" fill="#4dcb57"/>
<rect x="1078.4" y="674.6" width="19.2" height="19.8" fill="#4dcb57"/>
<rect x="1101.5" y="674.1" width="19.2" height="19.8" fill="#4dcb57"/>
<rect x="1124.7" y="672.0" width="19.2" height="19.8" fill="#4dcb57"/>
<rect x="1147.9" y="660.6" width="19.2" height="19.8" fill="#4dcb57"/>
<rect x="1171.0" y="650.1" width="19.2" height="19.8" fill="#4dcb57"/>
<rect x="1194.2" y="646.6" width="19.2" height="19.8" fill="#4dcb57"/>
<rect x="1217.4" y="645.3" width="19.2" height="19.8" fill="#4dcb57"/>
<rect x="1240.5" y="648.1" width="19.2" height="19.8" fill="#4dcb57"/>
<rect x="1263.7" y="642.1" width="19.2" height="19.8" fill="#4dcb57"/>
<rect x="1286.9" y="643.5" width="19.2" height="19.8" fill="#4dcb57"/>
<rect x="1310.1" y="643.5" width="19.2" height="19.8" fill="#4dcb57"/>
<rect x="1333.2" y="634.6" width="19.2" height="19.8" fill="#4dcb57"/>
<rect x="1356.4" y="629.5" width="19.2" height="19.8" fill="#4dcb57"/>
<rect x="1379.6" y="627.1" width="19.2" height="19.8" fill="#4dcb57"/>
<rect x="1402.7" y="635.8" width="19.2" height="19.8" fill="#4dcb57"/>
<rect x="1425.9" y="630.8" width="19.2" height="19.8" fill="#4dcb57"/>
<rect x="1449.1" y="629.5" width="19.2" height="19.8" fill="#4dcb57"/>
<rect x="1472.2" y="635.8" width="19.2" height="19.8" fill="#4dcb57"/>
<rect x="1495.4" y="625.1" width="19.2" height="19.8" fill="#4dcb57"/>
<rect x="1518.6" y="625.1" width="19.2" height="19.8" fill="#4dcb57"/>
<rect x="1541.8" y="629.7" width="19.2" height="19.8" fill="#4dcb57"/>
<rect x="1564.9" y="618.7" width="19.2" height="19.8" fill="#4dcb57"/>
<rect x="1588.1" y="616.0" width="19.2" height="19.8" fill="#4dcb57"/>
<rect x="1611.3" y="617.0" width="19.2" height="19.8" fill="#4dcb57"/>
<rect x="1634.4" y="618.1" width="19.2" height="19.8" fill="#4dcb57"/>
<rect x="1657.6" y="617.1" width="19.2" height="19.8" fill="#4dcb57"/>
<rect x="1680.8" y="614.6" width="19.2" height="19.8" fill="#4dcb57"/>
<rect x="1703.9" y="614.6" width="19.2" height="19.8" fill="#4dcb57"/>
<rect x="1727.1" y="610.3" width="19.2" height="19.8" fill="#4dcb57"/>
<rect x="1750.3" y="611.9" width="19.2" height="19.8" fill="#4dcb57"/>
<rect x="1773.5" y="611.9" width="19.2" height="19.8" fill="#4dcb57"/>
<g opacity="0.8"><polyline points="-1.0,621.1 22.1,650.0 45.3,640.4 68.5,636.2 91.6,642.3 114.8,648.3 138.0,654.4 161.2,660.4 184.3,666.5 207.5,672.5 230.7,678.6 253.8,684.7 277.0,690.7 300.2,696.8 323.3,702.8 346.5,708.9 369.7,714.9 392.9,721.0 416.0,723.6 439.2,727.6 462.4,727.6 485.5,729.6 508.7,731.7 531.9,736.7 555.0,736.7 578.2,739.7 601.4,739.7 624.6,738.7 647.7,736.7 670.9,732.7 694.1,733.2 717.2,732.7 740.4,738.7 763.6,740.7 786.7,740.7 809.9,740.7 833.1,740.7 856.3,734.7 879.4,736.7 902.6,737.7 925.8,736.7 948.9,736.7 972.1,734.4 995.3,732.7 1018.4,732.7 1041.6,728.9 1064.8,726.4 1088.0,720.0 1111.1,717.5 1134.3,718.8 1157.5,694.6 1180.6,660.3 1203.8,671.8 1227.0,668.0 1250.1,681.6 1273.3,661.0 1296.5,671.1 1319.7,671.1 1342.8,663.5 1366.0,654.6 1389.2,644.5 1412.3,635.6 1435.5,626.7 1458.7,615.3 1481.8,633.0 1505.0,643.0 1528.2,642.4 1551.4,625.9 1574.5,605.8 1597.7,600.5 1620.9,600.5 1644.0,607.9 1667.2,629.2 1690.4,619.4 1713.5,618.3 1736.7,596.4 1759.9,616.5 1783.1,610.7" fill="none" stroke="#000" stroke-width="9.4" stroke-linejoin="round"/>
<rect x="-11.8" y="610.0" width="21.6" height="22.2" fill="#000"/>
<rect x="11.3" y="638.9" width="21.6" height="22.2" fill="#000"/>
<rect x="34.5" y="629.3" width="21.6" height="22.2" fill="#000"/>
<rect x="57.7" y="625.1" width="21.6" height="22.2" fill="#000"/>
<rect x="80.8" y="631.2" width="21.6" height="22.2" fill="#000"/>
<rect x="104.0" y="637.2" width="21.6" height="22.2" fill="#000"/>
<rect x="127.2" y="643.3" width="21.6" height="22.2" fill="#000"/>
<rect x="150.4" y="649.3" width="21.6" height="22.2" fill="#000"/>
<rect x="173.5" y="655.4" width="21.6" height="22.2" fill="#000"/>
<rect x="196.7" y="661.4" width="21.6" height="22.2" fill="#000"/>
<rect x="219.9" y="667.5" width="21.6" height="22.2" fill="#000"/>
<rect x="243.0" y="673.6" width="21.6" height="22.2" fill="#000"/>
<rect x="266.2" y="679.6" width="21.6" height="22.2" fill="#000"/>
<rect x="289.4" y="685.7" width="21.6" height="22.2" fill="#000"/>
<rect x="312.5" y="691.7" width="21.6" height="22.2" fill="#000"/>
<rect x="335.7" y="697.8" width="21.6" height="22.2" fill="#000"/>
<rect x="358.9" y="703.8" width="21.6" height="22.2" fill="#000"/>
<rect x="382.1" y="709.9" width="21.6" height="22.2" fill="#000"/>
<rect x="405.2" y="712.5" width="21.6" height="22.2" fill="#000"/>
<rect x="428.4" y="716.5" width="21.6" height="22.2" fill="#000"/>
<rect x="451.6" y="716.5" width="21.6" height="22.2" fill="#000"/>
<rect x="474.7" y="718.5" width="21.6" height="22.2" fill="#000"/>
<rect x="497.9" y="720.6" width="21.6" height="22.2" fill="#000"/>
<rect x="521.1" y="725.6" width="21.6" height="22.2" fill="#000"/>
<rect x="544.2" y="725.6" width="21.6" height="22.2" fill="#000"/>
<rect x="567.4" y="728.6" width="21.6" height="22.2" fill="#000"/>
<rect x="590.6" y="728.6" width="21.6" height="22.2" fill="#000"/>
<rect x="613.8" y="727.6" width="21.6" height="22.2" fill="#000"/>
<rect x="636.9" y="725.6" width="21.6" height="22.2" fill="#000"/>
<rect x="660.1" y="721.6" width="21.6" height="22.2" fill="#000"/>
<rect x="683.3" y="722.1" width="21.6" height="22.2" fill="#000"/>
<rect x="706.4" y="721.6" width="21.6" height="22.2" fill="#000"/>
<rect x="729.6" y="727.6" width="21.6" height="22.2" fill="#000"/>
<rect x="752.8" y="729.6" width="21.6" height="22.2" fill="#000"/>
<rect x="775.9" y="729.6" width="21.6" height="22.2" fill="#000"/>
<rect x="799.1" y="729.6" width="21.6" height="22.2" fill="#000"/>
<rect x="822.3" y="729.6" width="21.6" height="22.2" fill="#000"/>
<rect x="845.5" y="723.6" width="21.6" height="22.2" fill="#000"/>
<rect x="868.6" y="725.6" width="21.6" height="22.2" fill="#000"/>
<rect x="891.8" y="726.6" width="21.6" height="22.2" fill="#000"/>
<rect x="915.0" y="725.6" width="21.6" height="22.2" fill="#000"/>
<rect x="938.1" y="725.6" width="21.6" height="22.2" fill="#000"/>
<rect x="961.3" y="723.3" width="21.6" height="22.2" fill="#000"/>
<rect x="984.5" y="721.6" width="21.6" height="22.2" fill="#000"/>
<rect x="1007.6" y="721.6" width="21.6" height="22.2" fill="#000"/>
<rect x="1030.8" y="717.8" width="21.6" height="22.2" fill="#000"/>
<rect x="1054.0" y="715.3" width="21.6" height="22.2" fill="#000"/>
<rect x="1077.2" y="708.9" width="21.6" height="22.2" fill="#000"/>
<rect x="1100.3" y="706.4" width="21.6" height="22.2" fill="#000"/>
<rect x="1123.5" y="707.7" width="21.6" height="22.2" fill="#000"/>
<rect x="1146.7" y="683.5" width="21.6" height="22.2" fill="#000"/>
<rect x="1169.8" y="649.2" width="21.6" height="22.2" fill="#000"/>
<rect x="1193.0" y="660.7" width="21.6" height="22.2" fill="#000"/>
<rect x="1216.2" y="656.9" width="21.6" height="22.2" fill="#000"/>
<rect x="1239.3" y="670.5" width="21.6" height="22.2" fill="#000"/>
<rect x="1262.5" y="649.9" width="21.6" height="22.2" fill="#000"/>
<rect x="1285.7" y="660.0" width="21.6" height="22.2" fill="#000"/>
<rect x="1308.9" y="660.0" width="21.6" height="22.2" fill="#000"/>
<rect x="1332.0" y="652.4" width="21.6" height="22.2" fill="#000"/>
<rect x="1355.2" y="643.5" width="21.6" height="22.2" fill="#000"/>
<rect x="1378.4" y="633.4" width="21.6" height="22.2" fill="#000"/>
<rect x="1401.5" y="624.5" width="21.6" height="22.2" fill="#000"/>
<rect x="1424.7" y="615.6" width="21.6" height="22.2" fill="#000"/>
<rect x="1447.9" y="604.2" width="21.6" height="22.2" fill="#000"/>
<rect x="1471.0" y="621.9" width="21.6" height="22.2" fill="#000"/>
<rect x="1494.2" y="631.9" width="21.6" height="22.2" fill="#000"/>
<rect x="1517.4" y="631.3" width="21.6" height="22.2" fill="#000"/>
<rect x="1540.6" y="614.8" width="21.6" height="22.2" fill="#000"/>
<rect x="1563.7" y="594.7" width="21.6" height="22.2" fill="#000"/>
<rect x="1586.9" y="589.4" width="21.6" height="22.2" fill="#000"/>
<rect x="1610.1" y="589.4" width="21.6" height="22.2" fill="#000"/>
<rect x="1633.2" y="596.8" width="21.6" height="22.2" fill="#000"/>
<rect x="1656.4" y="618.1" width="21.6" height="22.2" fill="#000"/>
<rect x="1679.6" y="608.3" width="21.6" height="22.2" fill="#000"/>
<rect x="1702.7" y="607.2" width="21.6" height="22.2" fill="#000"/>
<rect x="1725.9" y="585.3" width="21.6" height="22.2" fill="#000"/>
<rect x="1749.1" y="605.4" width="21.6" height="22.2" fill="#000"/>
<rect x="1772.3" y="599.6" width="21.6" height="22.2" fill="#000"/>
</g>
<polyline points="-1.0,621.1 22.1,650.0 45.3,640.4 68.5,636.2 91.6,642.3 114.8,648.3 138.0,654.4 161.2,660.4 184.3,666.5 207.5,672.5 230.7,678.6 253.8,684.7 277.0,690.7 300.2,696.8 323.3,702.8 346.5,708.9 369.7,714.9 392.9,721.0 416.0,723.6 439.2,727.6 462.4,727.6 485.5,729.6 508.7,731.7 531.9,736.7 555.0,736.7 578.2,739.7 601.4,739.7 624.6,738.7 647.7,736.7 670.9,732.7 694.1,733.2 717.2,732.7 740.4,738.7 763.6,740.7 786.7,740.7 809.9,740.7 833.1,740.7 856.3,734.7 879.4,736.7 902.6,737.7 925.8,736.7 948.9,736.7 972.1,734.4 995.3,732.7 1018.4,732.7 1041.6,728.9 1064.8,726.4 1088.0,720.0 1111.1,717.5 1134.3,718.8 1157.5,694.6 1180.6,660.3 1203.8,671.8 1227.0,668.0 1250.1,681.6 1273.3,661.0 1296.5,671.1 1319.7,671.1 1342.8,663.5 1366.0,654.6 1389.2,644.5 1412.3,635.6 1435.5,626.7 1458.7,615.3 1481.8,633.0 1505.0,643.0 1528.2,642.4 1551.4,625.9 1574.5,605.8 1597.7,600.5 1620.9,600.5 1644.0,607.9 1667.2,629.2 1690.4,619.4 1713.5,618.3 1736.7,596.4 1759.9,616.5 1783.1,610.7" fill="none" stroke="#d35b0b" stroke-width="7" stroke-linejoin="round"/>
<rect x="-10.6" y="611.2" width="19.2" height="19.8" fill="#d35b0b"/>
<rect x="12.5" y="640.1" width="19.2" height="19.8" fill="#d35b0b"/>
<rect x="35.7" y="630.5" width="19.2" height="19.8" fill="#d35b0b"/>
<rect x="58.9" y="626.3" width="19.2" height="19.8" fill="#d35b0b"/>
<rect x="82.0" y="632.4" width="19.2" height="19.8" fill="#d35b0b"/>
<rect x="105.2" y="638.4" width="19.2" height="19.8" fill="#d35b0b"/>
<rect x="128.4" y="644.5" width="19.2" height="19.8" fill="#d35b0b"/>
<rect x="151.6" y="650.5" width="19.2" height="19.8" fill="#d35b0b"/>
<rect x="174.7" y="656.6" width="19.2" height="19.8" fill="#d35b0b"/>
<rect x="197.9" y="662.6" width="19.2" height="19.8" fill="#d35b0b"/>
<rect x="221.1" y="668.7" width="19.2" height="19.8" fill="#d35b0b"/>
<rect x="244.2" y="674.8" width="19.2" height="19.8" fill="#d35b0b"/>
<rect x="267.4" y="680.8" width="19.2" height="19.8" fill="#d35b0b"/>
<rect x="290.6" y="686.9" width="19.2" height="19.8" fill="#d35b0b"/>
<rect x="313.7" y="692.9" width="19.2" height="19.8" fill="#d35b0b"/>
<rect x="336.9" y="699.0" width="19.2" height="19.8" fill="#d35b0b"/>
<rect x="360.1" y="705.0" width="19.2" height="19.8" fill="#d35b0b"/>
<rect x="383.2" y="711.1" width="19.2" height="19.8" fill="#d35b0b"/>
<rect x="406.4" y="713.7" width="19.2" height="19.8" fill="#d35b0b"/>
<rect x="429.6" y="717.7" width="19.2" height="19.8" fill="#d35b0b"/>
<rect x="452.8" y="717.7" width="19.2" height="19.8" fill="#d35b0b"/>
<rect x="475.9" y="719.7" width="19.2" height="19.8" fill="#d35b0b"/>
<rect x="499.1" y="721.8" width="19.2" height="19.8" fill="#d35b0b"/>
<rect x="522.3" y="726.8" width="19.2" height="19.8" fill="#d35b0b"/>
<rect x="545.4" y="726.8" width="19.2" height="19.8" fill="#d35b0b"/>
<rect x="568.6" y="729.8" width="19.2" height="19.8" fill="#d35b0b"/>
<rect x="591.8" y="729.8" width="19.2" height="19.8" fill="#d35b0b"/>
<rect x="615.0" y="728.8" width="19.2" height="19.8" fill="#d35b0b"/>
<rect x="638.1" y="726.8" width="19.2" height="19.8" fill="#d35b0b"/>
<rect x="661.3" y="722.8" width="19.2" height="19.8" fill="#d35b0b"/>
<rect x="684.5" y="723.3" width="19.2" height="19.8" fill="#d35b0b"/>
<rect x="707.6" y="722.8" width="19.2" height="19.8" fill="#d35b0b"/>
<rect x="730.8" y="728.8" width="19.2" height="19.8" fill="#d35b0b"/>
<rect x="754.0" y="730.8" width="19.2" height="19.8" fill="#d35b0b"/>
<rect x="777.1" y="730.8" width="19.2" height="19.8" fill="#d35b0b"/>
<rect x="800.3" y="730.8" width="19.2" height="19.8" fill="#d35b0b"/>
<rect x="823.5" y="730.8" width="19.2" height="19.8" fill="#d35b0b"/>
<rect x="846.7" y="724.8" width="19.2" height="19.8" fill="#d35b0b"/>
<rect x="869.8" y="726.8" width="19.2" height="19.8" fill="#d35b0b"/>
<rect x="893.0" y="727.8" width="19.2" height="19.8" fill="#d35b0b"/>
<rect x="916.2" y="726.8" width="19.2" height="19.8" fill="#d35b0b"/>
<rect x="939.3" y="726.8" width="19.2" height="19.8" fill="#d35b0b"/>
<rect x="962.5" y="724.5" width="19.2" height="19.8" fill="#d35b0b"/>
<rect x="985.7" y="722.8" width="19.2" height="19.8" fill="#d35b0b"/>
<rect x="1008.8" y="722.8" width="19.2" height="19.8" fill="#d35b0b"/>
<rect x="1032.0" y="719.0" width="19.2" height="19.8" fill="#d35b0b"/>
<rect x="1055.2" y="716.5" width="19.2" height="19.8" fill="#d35b0b"/>
<rect x="1078.4" y="710.1" width="19.2" height="19.8" fill="#d35b0b"/>
<rect x="1101.5" y="707.6" width="19.2" height="19.8" fill="#d35b0b"/>
<rect x="1124.7" y="708.9" width="19.2" height="19.8" fill="#d35b0b"/>
<rect x="1147.9" y="684.7" width="19.2" height="19.8" fill="#d35b0b"/>
<rect x="1171.0" y="650.4" width="19.2" height="19.8" fill="#d35b0b"/>
<rect x="1194.2" y="661.9" width="19.2" height="19.8" fill="#d35b0b"/>
<rect x="1217.4" y="658.1" width="19.2" height="19.8" fill="#d35b0b"/>
<rect x="1240.5" y="671.7" width="19.2" height="19.8" fill="#d35b0b"/>
<rect x="1263.7" y="651.1" width="19.2" height="19.8" fill="#d35b0b"/>
<rect x="1286.9" y="661.2" width="19.2" height="19.8" fill="#d35b0b"/>
<rect x="1310.1" y="661.2" width="19.2" height="19.8" fill="#d35b0b"/>
<rect x="1333.2" y="653.6" width="19.2" height="19.8" fill="#d35b0b"/>
<rect x="1356.4" y="644.7" width="19.2" height="19.8" fill="#d35b0b"/>
<rect x="1379.6" y="634.6" width="19.2" height="19.8" fill="#d35b0b"/>
<rect x="1402.7" y="625.7" width="19.2" height="19.8" fill="#d35b0b"/>
<rect x="1425.9" y="616.8" width="19.2" height="19.8" fill="#d35b0b"/>
<rect x="1449.1" y="605.4" width="19.2" height="19.8" fill="#d35b0b"/>
<rect x="1472.2" y="623.1" width="19.2" height="19.8" fill="#d35b0b"/>
<rect x="1495.4" y="633.1" width="19.2" height="19.8" fill="#d35b0b"/>
<rect x="1518.6" y="632.5" width="19.2" height="19.8" fill="#d35b0b"/>
<rect x="1541.8" y="616.0" width="19.2" height="19.8" fill="#d35b0b"/>
<rect x="1564.9" y="595.9" width="19.2" height="19.8" fill="#d35b0b"/>
<rect x="1588.1" y="590.6" width="19.2" height="19.8" fill="#d35b0b"/>
<rect x="1611.3" y="590.6" width="19.2" height="19.8" fill="#d35b0b"/>
<rect x="1634.4" y="598.0" width="19.2" height="19.8" fill="#d35b0b"/>
<rect x="1657.6" y="619.3" width="19.2" height="19.8" fill="#d35b0b"/>
<rect x="1680.8" y="609.5" width="19.2" height="19.8" fill="#d35b0b"/>
<rect x="1703.9" y="608.4" width="19.2" height="19.8" fill="#d35b0b"/>
<rect x="1727.1" y="586.5" width="19.2" height="19.8" fill="#d35b0b"/>
<rect x="1750.3" y="606.6" width="19.2" height="19.8" fill="#d35b0b"/>
<rect x="1773.5" y="600.8" width="19.2" height="19.8" fill="#d35b0b"/>
<g opacity="0.8"><polyline points="-1.0,710.6 22.1,728.5 45.3,726.3 68.5,723.0 91.6,726.3 114.8,729.6 138.0,732.9 161.2,736.1 184.3,739.4 207.5,742.7 230.7,746.0 253.8,749.3 277.0,752.6 300.2,755.9 323.3,759.1 346.5,762.4 369.7,765.7 392.9,769.0 416.0,769.9 439.2,770.9 462.4,772.9 485.5,772.9 508.7,773.9 531.9,774.9 555.0,775.9 578.2,775.9 601.4,776.9 624.6,778.5 647.7,778.5 670.9,773.9 694.1,773.9 717.2,775.9 740.4,776.9 763.6,778.9 786.7,778.9 809.9,778.9 833.1,778.9 856.3,775.9 879.4,775.9 902.6,775.9 925.8,775.9 948.9,775.9 972.1,774.2 995.3,772.9 1018.4,772.1 1041.6,767.8 1064.8,763.2 1088.0,758.1 1111.1,758.1 1134.3,758.1 1157.5,744.2 1180.6,714.9 1203.8,725.1 1227.0,721.3 1250.1,731.1 1273.3,714.3 1296.5,725.7 1319.7,725.7 1342.8,721.9 1366.0,715.6 1389.2,704.2 1412.3,696.5 1435.5,686.4 1458.7,677.5 1481.8,696.5 1505.0,698.0 1528.2,694.5 1551.4,677.7 1574.5,657.6 1597.7,656.5 1620.9,648.1 1644.0,654.6 1667.2,668.9 1690.4,656.7 1713.5,664.1 1736.7,643.5 1759.9,665.7 1783.1,665.2" fill="none" stroke="#000" stroke-width="9.4" stroke-linejoin="round"/>
<rect x="-11.8" y="699.5" width="21.6" height="22.2" fill="#000"/>
<rect x="11.3" y="717.4" width="21.6" height="22.2" fill="#000"/>
<rect x="34.5" y="715.2" width="21.6" height="22.2" fill="#000"/>
<rect x="57.7" y="711.9" width="21.6" height="22.2" fill="#000"/>
<rect x="80.8" y="715.2" width="21.6" height="22.2" fill="#000"/>
<rect x="104.0" y="718.5" width="21.6" height="22.2" fill="#000"/>
<rect x="127.2" y="721.8" width="21.6" height="22.2" fill="#000"/>
<rect x="150.4" y="725.0" width="21.6" height="22.2" fill="#000"/>
<rect x="173.5" y="728.3" width="21.6" height="22.2" fill="#000"/>
<rect x="196.7" y="731.6" width="21.6" height="22.2" fill="#000"/>
<rect x="219.9" y="734.9" width="21.6" height="22.2" fill="#000"/>
<rect x="243.0" y="738.2" width="21.6" height="22.2" fill="#000"/>
<rect x="266.2" y="741.5" width="21.6" height="22.2" fill="#000"/>
<rect x="289.4" y="744.8" width="21.6" height="22.2" fill="#000"/>
<rect x="312.5" y="748.0" width="21.6" height="22.2" fill="#000"/>
<rect x="335.7" y="751.3" width="21.6" height="22.2" fill="#000"/>
<rect x="358.9" y="754.6" width="21.6" height="22.2" fill="#000"/>
<rect x="382.1" y="757.9" width="21.6" height="22.2" fill="#000"/>
<rect x="405.2" y="758.8" width="21.6" height="22.2" fill="#000"/>
<rect x="428.4" y="759.8" width="21.6" height="22.2" fill="#000"/>
<rect x="451.6" y="761.8" width="21.6" height="22.2" fill="#000"/>
<rect x="474.7" y="761.8" width="21.6" height="22.2" fill="#000"/>
<rect x="497.9" y="762.8" width="21.6" height="22.2" fill="#000"/>
<rect x="521.1" y="763.8" width="21.6" height="22.2" fill="#000"/>
<rect x="544.2" y="764.8" width="21.6" height="22.2" fill="#000"/>
<rect x="567.4" y="764.8" width="21.6" height="22.2" fill="#000"/>
<rect x="590.6" y="765.8" width="21.6" height="22.2" fill="#000"/>
<rect x="613.8" y="767.4" width="21.6" height="22.2" fill="#000"/>
<rect x="636.9" y="767.4" width="21.6" height="22.2" fill="#000"/>
<rect x="660.1" y="762.8" width="21.6" height="22.2" fill="#000"/>
<rect x="683.3" y="762.8" width="21.6" height="22.2" fill="#000"/>
<rect x="706.4" y="764.8" width="21.6" height="22.2" fill="#000"/>
<rect x="729.6" y="765.8" width="21.6" height="22.2" fill="#000"/>
<rect x="752.8" y="767.8" width="21.6" height="22.2" fill="#000"/>
<rect x="775.9" y="767.8" width="21.6" height="22.2" fill="#000"/>
<rect x="799.1" y="767.8" width="21.6" height="22.2" fill="#000"/>
<rect x="822.3" y="767.8" width="21.6" height="22.2" fill="#000"/>
<rect x="845.5" y="764.8" width="21.6" height="22.2" fill="#000"/>
<rect x="868.6" y="764.8" width="21.6" height="22.2" fill="#000"/>
<rect x="891.8" y="764.8" width="21.6" height="22.2" fill="#000"/>
<rect x="915.0" y="764.8" width="21.6" height="22.2" fill="#000"/>
<rect x="938.1" y="764.8" width="21.6" height="22.2" fill="#000"/>
<rect x="961.3" y="763.1" width="21.6" height="22.2" fill="#000"/>
<rect x="984.5" y="761.8" width="21.6" height="22.2" fill="#000"/>
<rect x="1007.6" y="761.0" width="21.6" height="22.2" fill="#000"/>
<rect x="1030.8" y="756.7" width="21.6" height="22.2" fill="#000"/>
<rect x="1054.0" y="752.1" width="21.6" height="22.2" fill="#000"/>
<rect x="1077.2" y="747.0" width="21.6" height="22.2" fill="#000"/>
<rect x="1100.3" y="747.0" width="21.6" height="22.2" fill="#000"/>
<rect x="1123.5" y="747.0" width="21.6" height="22.2" fill="#000"/>
<rect x="1146.7" y="733.1" width="21.6" height="22.2" fill="#000"/>
<rect x="1169.8" y="703.8" width="21.6" height="22.2" fill="#000"/>
<rect x="1193.0" y="714.0" width="21.6" height="22.2" fill="#000"/>
<rect x="1216.2" y="710.2" width="21.6" height="22.2" fill="#000"/>
<rect x="1239.3" y="720.0" width="21.6" height="22.2" fill="#000"/>
<rect x="1262.5" y="703.2" width="21.6" height="22.2" fill="#000"/>
<rect x="1285.7" y="714.6" width="21.6" height="22.2" fill="#000"/>
<rect x="1308.9" y="714.6" width="21.6" height="22.2" fill="#000"/>
<rect x="1332.0" y="710.8" width="21.6" height="22.2" fill="#000"/>
<rect x="1355.2" y="704.5" width="21.6" height="22.2" fill="#000"/>
<rect x="1378.4" y="693.1" width="21.6" height="22.2" fill="#000"/>
<rect x="1401.5" y="685.4" width="21.6" height="22.2" fill="#000"/>
<rect x="1424.7" y="675.3" width="21.6" height="22.2" fill="#000"/>
<rect x="1447.9" y="666.4" width="21.6" height="22.2" fill="#000"/>
<rect x="1471.0" y="685.4" width="21.6" height="22.2" fill="#000"/>
<rect x="1494.2" y="686.9" width="21.6" height="22.2" fill="#000"/>
<rect x="1517.4" y="683.4" width="21.6" height="22.2" fill="#000"/>
<rect x="1540.6" y="666.6" width="21.6" height="22.2" fill="#000"/>
<rect x="1563.7" y="646.5" width="21.6" height="22.2" fill="#000"/>
<rect x="1586.9" y="645.4" width="21.6" height="22.2" fill="#000"/>
<rect x="1610.1" y="637.0" width="21.6" height="22.2" fill="#000"/>
<rect x="1633.2" y="643.5" width="21.6" height="22.2" fill="#000"/>
<rect x="1656.4" y="657.8" width="21.6" height="22.2" fill="#000"/>
<rect x="1679.6" y="645.6" width="21.6" height="22.2" fill="#000"/>
<rect x="1702.7" y="653.0" width="21.6" height="22.2" fill="#000"/>
<rect x="1725.9" y="632.4" width="21.6" height="22.2" fill="#000"/>
<rect x="1749.1" y="654.6" width="21.6" height="22.2" fill="#000"/>
<rect x="1772.3" y="654.1" width="21.6" height="22.2" fill="#000"/>
</g>
<polyline points="-1.0,710.6 22.1,728.5 45.3,726.3 68.5,723.0 91.6,726.3 114.8,729.6 138.0,732.9 161.2,736.1 184.3,739.4 207.5,742.7 230.7,746.0 253.8,749.3 277.0,752.6 300.2,755.9 323.3,759.1 346.5,762.4 369.7,765.7 392.9,769.0 416.0,769.9 439.2,770.9 462.4,772.9 485.5,772.9 508.7,773.9 531.9,774.9 555.0,775.9 578.2,775.9 601.4,776.9 624.6,778.5 647.7,778.5 670.9,773.9 694.1,773.9 717.2,775.9 740.4,776.9 763.6,778.9 786.7,778.9 809.9,778.9 833.1,778.9 856.3,775.9 879.4,775.9 902.6,775.9 925.8,775.9 948.9,775.9 972.1,774.2 995.3,772.9 1018.4,772.1 1041.6,767.8 1064.8,763.2 1088.0,758.1 1111.1,758.1 1134.3,758.1 1157.5,744.2 1180.6,714.9 1203.8,725.1 1227.0,721.3 1250.1,731.1 1273.3,714.3 1296.5,725.7 1319.7,725.7 1342.8,721.9 1366.0,715.6 1389.2,704.2 1412.3,696.5 1435.5,686.4 1458.7,677.5 1481.8,696.5 1505.0,698.0 1528.2,694.5 1551.4,677.7 1574.5,657.6 1597.7,656.5 1620.9,648.1 1644.0,654.6 1667.2,668.9 1690.4,656.7 1713.5,664.1 1736.7,643.5 1759.9,665.7 1783.1,665.2" fill="none" stroke="#d12a31" stroke-width="7" stroke-linejoin="round"/>
<rect x="-10.6" y="700.7" width="19.2" height="19.8" fill="#d12a31"/>
<rect x="12.5" y="718.6" width="19.2" height="19.8" fill="#d12a31"/>
<rect x="35.7" y="716.4" width="19.2" height="19.8" fill="#d12a31"/>
<rect x="58.9" y="713.1" width="19.2" height="19.8" fill="#d12a31"/>
<rect x="82.0" y="716.4" width="19.2" height="19.8" fill="#d12a31"/>
<rect x="105.2" y="719.7" width="19.2" height="19.8" fill="#d12a31"/>
<rect x="128.4" y="723.0" width="19.2" height="19.8" fill="#d12a31"/>
<rect x="151.6" y="726.2" width="19.2" height="19.8" fill="#d12a31"/>
<rect x="174.7" y="729.5" width="19.2" height="19.8" fill="#d12a31"/>
<rect x="197.9" y="732.8" width="19.2" height="19.8" fill="#d12a31"/>
<rect x="221.1" y="736.1" width="19.2" height="19.8" fill="#d12a31"/>
<rect x="244.2" y="739.4" width="19.2" height="19.8" fill="#d12a31"/>
<rect x="267.4" y="742.7" width="19.2" height="19.8" fill="#d12a31"/>
<rect x="290.6" y="746.0" width="19.2" height="19.8" fill="#d12a31"/>
<rect x="313.7" y="749.2" width="19.2" height="19.8" fill="#d12a31"/>
<rect x="336.9" y="752.5" width="19.2" height="19.8" fill="#d12a31"/>
<rect x="360.1" y="755.8" width="19.2" height="19.8" fill="#d12a31"/>
<rect x="383.2" y="759.1" width="19.2" height="19.8" fill="#d12a31"/>
<rect x="406.4" y="760.0" width="19.2" height="19.8" fill="#d12a31"/>
<rect x="429.6" y="761.0" width="19.2" height="19.8" fill="#d12a31"/>
<rect x="452.8" y="763.0" width="19.2" height="19.8" fill="#d12a31"/>
<rect x="475.9" y="763.0" width="19.2" height="19.8" fill="#d12a31"/>
<rect x="499.1" y="764.0" width="19.2" height="19.8" fill="#d12a31"/>
<rect x="522.3" y="765.0" width="19.2" height="19.8" fill="#d12a31"/>
<rect x="545.4" y="766.0" width="19.2" height="19.8" fill="#d12a31"/>
<rect x="568.6" y="766.0" width="19.2" height="19.8" fill="#d12a31"/>
<rect x="591.8" y="767.0" width="19.2" height="19.8" fill="#d12a31"/>
<rect x="615.0" y="768.6" width="19.2" height="19.8" fill="#d12a31"/>
<rect x="638.1" y="768.6" width="19.2" height="19.8" fill="#d12a31"/>
<rect x="661.3" y="764.0" width="19.2" height="19.8" fill="#d12a31"/>
<rect x="684.5" y="764.0" width="19.2" height="19.8" fill="#d12a31"/>
<rect x="707.6" y="766.0" width="19.2" height="19.8" fill="#d12a31"/>
<rect x="730.8" y="767.0" width="19.2" height="19.8" fill="#d12a31"/>
<rect x="754.0" y="769.0" width="19.2" height="19.8" fill="#d12a31"/>
<rect x="777.1" y="769.0" width="19.2" height="19.8" fill="#d12a31"/>
<rect x="800.3" y="769.0" width="19.2" height="19.8" fill="#d12a31"/>
<rect x="823.5" y="769.0" width="19.2" height="19.8" fill="#d12a31"/>
<rect x="846.7" y="766.0" width="19.2" height="19.8" fill="#d12a31"/>
<rect x="869.8" y="766.0" width="19.2" height="19.8" fill="#d12a31"/>
<rect x="893.0" y="766.0" width="19.2" height="19.8" fill="#d12a31"/>
<rect x="916.2" y="766.0" width="19.2" height="19.8" fill="#d12a31"/>
<rect x="939.3" y="766.0" width="19.2" height="19.8" fill="#d12a31"/>
<rect x="962.5" y="764.3" width="19.2" height="19.8" fill="#d12a31"/>
<rect x="985.7" y="763.0" width="19.2" height="19.8" fill="#d12a31"/>
<rect x="1008.8" y="762.2" width="19.2" height="19.8" fill="#d12a31"/>
<rect x="1032.0" y="757.9" width="19.2" height="19.8" fill="#d12a31"/>
<rect x="1055.2" y="753.3" width="19.2" height="19.8" fill="#d12a31"/>
<rect x="1078.4" y="748.2" width="19.2" height="19.8" fill="#d12a31"/>
<rect x="1101.5" y="748.2" width="19.2" height="19.8" fill="#d12a31"/>
<rect x="1124.7" y="748.2" width="19.2" height="19.8" fill="#d12a31"/>
<rect x="1147.9" y="734.3" width="19.2" height="19.8" fill="#d12a31"/>
<rect x="1171.0" y="705.0" width="19.2" height="19.8" fill="#d12a31"/>
<rect x="1194.2" y="715.2" width="19.2" height="19.8" fill="#d12a31"/>
<rect x="1217.4" y="711.4" width="19.2" height="19.8" fill="#d12a31"/>
<rect x="1240.5" y="721.2" width="19.2" height="19.8" fill="#d12a31"/>
<rect x="1263.7" y="704.4" width="19.2" height="19.8" fill="#d12a31"/>
<rect x="1286.9" y="715.8" width="19.2" height="19.8" fill="#d12a31"/>
<rect x="1310.1" y="715.8" width="19.2" height="19.8" fill="#d12a31"/>
<rect x="1333.2" y="712.0" width="19.2" height="19.8" fill="#d12a31"/>
<rect x="1356.4" y="705.7" width="19.2" height="19.8" fill="#d12a31"/>
<rect x="1379.6" y="694.3" width="19.2" height="19.8" fill="#d12a31"/>
<rect x="1402.7" y="686.6" width="19.2" height="19.8" fill="#d12a31"/>
<rect x="1425.9" y="676.5" width="19.2" height="19.8" fill="#d12a31"/>
<rect x="1449.1" y="667.6" width="19.2" height="19.8" fill="#d12a31"/>
<rect x="1472.2" y="686.6" width="19.2" height="19.8" fill="#d12a31"/>
<rect x="1495.4" y="688.1" width="19.2" height="19.8" fill="#d12a31"/>
<rect x="1518.6" y="684.6" width="19.2" height="19.8" fill="#d12a31"/>
<rect x="1541.8" y="667.8" width="19.2" height="19.8" fill="#d12a31"/>
<rect x="1564.9" y="647.7" width="19.2" height="19.8" fill="#d12a31"/>
<rect x="1588.1" y="646.6" width="19.2" height="19.8" fill="#d12a31"/>
<rect x="1611.3" y="638.2" width="19.2" height="19.8" fill="#d12a31"/>
<rect x="1634.4" y="644.7" width="19.2" height="19.8" fill="#d12a31"/>
<rect x="1657.6" y="659.0" width="19.2" height="19.8" fill="#d12a31"/>
<rect x="1680.8" y="646.8" width="19.2" height="19.8" fill="#d12a31"/>
<rect x="1703.9" y="654.2" width="19.2" height="19.8" fill="#d12a31"/>
<rect x="1727.1" y="633.6" width="19.2" height="19.8" fill="#d12a31"/>
<rect x="1750.3" y="655.8" width="19.2" height="19.8" fill="#d12a31"/>
<rect x="1773.5" y="655.3" width="19.2" height="19.8" fill="#d12a31"/>
<g opacity="0.8"><polyline points="-1.0,281.2 22.1,245.2 45.3,224.7 68.5,230.9 91.6,280.1 114.8,349.6 138.0,381.2 161.2,375.8 184.3,377.3 207.5,369.4 230.7,379.4 253.8,365.8 277.0,355.0 300.2,367.3 323.3,360.8 346.5,357.2 369.7,350.6 392.9,341.7 416.0,350.6 439.2,348.1 462.4,344.9 485.5,329.5 508.7,323.3 531.9,316.8 555.0,323.8 578.2,319.2 601.4,318.9 624.6,323.8 647.7,332.2 670.9,324.8 694.1,325.9 717.2,323.8 740.4,317.4 763.6,318.5 786.7,313.2 809.9,313.2 833.1,312.1 856.3,310.1 879.4,298.6 902.6,299.6 925.8,298.6 948.9,298.6 972.1,302.2 995.3,294.3 1018.4,291.6 1041.6,288.0 1064.8,284.8 1088.0,286.9 1111.1,285.9 1134.3,281.4 1157.5,281.2 1180.6,293.9 1203.8,288.2 1227.0,289.2 1250.1,282.5 1273.3,284.0 1296.5,277.0 1319.7,277.0 1342.8,277.0 1366.0,280.4 1389.2,285.4 1412.3,290.6 1435.5,293.6 1458.7,297.8 1481.8,288.0 1505.0,280.4 1528.2,275.0 1551.4,283.8 1574.5,287.3 1597.7,285.0 1620.9,287.5 1644.0,272.1 1667.2,251.8 1690.4,253.8 1713.5,251.8 1736.7,262.3 1759.9,249.6 1783.1,256.0" fill="none" stroke="#000" stroke-width="7.4" stroke-linejoin="round"/>
<rect x="-11.8" y="270.1" width="21.6" height="22.2" fill="#000"/>
<rect x="11.3" y="234.1" width="21.6" height="22.2" fill="#000"/>
<rect x="34.5" y="213.6" width="21.6" height="22.2" fill="#000"/>
<rect x="57.7" y="219.8" width="21.6" height="22.2" fill="#000"/>
<rect x="80.8" y="269.0" width="21.6" height="22.2" fill="#000"/>
<rect x="104.0" y="338.5" width="21.6" height="22.2" fill="#000"/>
<rect x="127.2" y="370.1" width="21.6" height="22.2" fill="#000"/>
<rect x="150.4" y="364.7" width="21.6" height="22.2" fill="#000"/>
<rect x="173.5" y="366.2" width="21.6" height="22.2" fill="#000"/>
<rect x="196.7" y="358.3" width="21.6" height="22.2" fill="#000"/>
<rect x="219.9" y="368.3" width="21.6" height="22.2" fill="#000"/>
<rect x="243.0" y="354.7" width="21.6" height="22.2" fill="#000"/>
<rect x="266.2" y="343.9" width="21.6" height="22.2" fill="#000"/>
<rect x="289.4" y="356.2" width="21.6" height="22.2" fill="#000"/>
<rect x="312.5" y="349.7" width="21.6" height="22.2" fill="#000"/>
<rect x="335.7" y="346.1" width="21.6" height="22.2" fill="#000"/>
<rect x="358.9" y="339.5" width="21.6" height="22.2" fill="#000"/>
<rect x="382.1" y="330.6" width="21.6" height="22.2" fill="#000"/>
<rect x="405.2" y="339.5" width="21.6" height="22.2" fill="#000"/>
<rect x="428.4" y="337.0" width="21.6" height="22.2" fill="#000"/>
<rect x="451.6" y="333.8" width="21.6" height="22.2" fill="#000"/>
<rect x="474.7" y="318.4" width="21.6" height="22.2" fill="#000"/>
<rect x="497.9" y="312.2" width="21.6" height="22.2" fill="#000"/>
<rect x="521.1" y="305.7" width="21.6" height="22.2" fill="#000"/>
<rect x="544.2" y="312.7" width="21.6" height="22.2" fill="#000"/>
<rect x="567.4" y="308.1" width="21.6" height="22.2" fill="#000"/>
<rect x="590.6" y="307.8" width="21.6" height="22.2" fill="#000"/>
<rect x="613.8" y="312.7" width="21.6" height="22.2" fill="#000"/>
<rect x="636.9" y="321.1" width="21.6" height="22.2" fill="#000"/>
<rect x="660.1" y="313.7" width="21.6" height="22.2" fill="#000"/>
<rect x="683.3" y="314.8" width="21.6" height="22.2" fill="#000"/>
<rect x="706.4" y="312.7" width="21.6" height="22.2" fill="#000"/>
<rect x="729.6" y="306.3" width="21.6" height="22.2" fill="#000"/>
<rect x="752.8" y="307.4" width="21.6" height="22.2" fill="#000"/>
<rect x="775.9" y="302.1" width="21.6" height="22.2" fill="#000"/>
<rect x="799.1" y="302.1" width="21.6" height="22.2" fill="#000"/>
<rect x="822.3" y="301.0" width="21.6" height="22.2" fill="#000"/>
<rect x="845.5" y="299.0" width="21.6" height="22.2" fill="#000"/>
<rect x="868.6" y="287.5" width="21.6" height="22.2" fill="#000"/>
<rect x="891.8" y="288.5" width="21.6" height="22.2" fill="#000"/>
<rect x="915.0" y="287.5" width="21.6" height="22.2" fill="#000"/>
<rect x="938.1" y="287.5" width="21.6" height="22.2" fill="#000"/>
<rect x="961.3" y="291.1" width="21.6" height="22.2" fill="#000"/>
<rect x="984.5" y="283.2" width="21.6" height="22.2" fill="#000"/>
<rect x="1007.6" y="280.5" width="21.6" height="22.2" fill="#000"/>
<rect x="1030.8" y="276.9" width="21.6" height="22.2" fill="#000"/>
<rect x="1054.0" y="273.7" width="21.6" height="22.2" fill="#000"/>
<rect x="1077.2" y="275.8" width="21.6" height="22.2" fill="#000"/>
<rect x="1100.3" y="274.8" width="21.6" height="22.2" fill="#000"/>
<rect x="1123.5" y="270.3" width="21.6" height="22.2" fill="#000"/>
<rect x="1146.7" y="270.1" width="21.6" height="22.2" fill="#000"/>
<rect x="1169.8" y="282.8" width="21.6" height="22.2" fill="#000"/>
<rect x="1193.0" y="277.1" width="21.6" height="22.2" fill="#000"/>
<rect x="1216.2" y="278.1" width="21.6" height="22.2" fill="#000"/>
<rect x="1239.3" y="271.4" width="21.6" height="22.2" fill="#000"/>
<rect x="1262.5" y="272.9" width="21.6" height="22.2" fill="#000"/>
<rect x="1285.7" y="265.9" width="21.6" height="22.2" fill="#000"/>
<rect x="1308.9" y="265.9" width="21.6" height="22.2" fill="#000"/>
<rect x="1332.0" y="265.9" width="21.6" height="22.2" fill="#000"/>
<rect x="1355.2" y="269.3" width="21.6" height="22.2" fill="#000"/>
<rect x="1378.4" y="274.3" width="21.6" height="22.2" fill="#000"/>
<rect x="1401.5" y="279.5" width="21.6" height="22.2" fill="#000"/>
<rect x="1424.7" y="282.5" width="21.6" height="22.2" fill="#000"/>
<rect x="1447.9" y="286.7" width="21.6" height="22.2" fill="#000"/>
<rect x="1471.0" y="276.9" width="21.6" height="22.2" fill="#000"/>
<rect x="1494.2" y="269.3" width="21.6" height="22.2" fill="#000"/>
<rect x="1517.4" y="263.9" width="21.6" height="22.2" fill="#000"/>
<rect x="1540.6" y="272.7" width="21.6" height="22.2" fill="#000"/>
<rect x="1563.7" y="276.2" width="21.6" height="22.2" fill="#000"/>
<rect x="1586.9" y="273.9" width="21.6" height="22.2" fill="#000"/>
<rect x="1610.1" y="276.4" width="21.6" height="22.2" fill="#000"/>
<rect x="1633.2" y="261.0" width="21.6" height="22.2" fill="#000"/>
<rect x="1656.4" y="240.7" width="21.6" height="22.2" fill="#000"/>
<rect x="1679.6" y="242.7" width="21.6" height="22.2" fill="#000"/>
<rect x="1702.7" y="240.7" width="21.6" height="22.2" fill="#000"/>
<rect x="1725.9" y="251.2" width="21.6" height="22.2" fill="#000"/>
<rect x="1749.1" y="238.5" width="21.6" height="22.2" fill="#000"/>
<rect x="1772.3" y="244.9" width="21.6" height="22.2" fill="#000"/>
</g>
<polyline points="-1.0,281.2 22.1,245.2 45.3,224.7 68.5,230.9 91.6,280.1 114.8,349.6 138.0,381.2 161.2,375.8 184.3,377.3 207.5,369.4 230.7,379.4 253.8,365.8 277.0,355.0 300.2,367.3 323.3,360.8 346.5,357.2 369.7,350.6 392.9,341.7 416.0,350.6 439.2,348.1 462.4,344.9 485.5,329.5 508.7,323.3 531.9,316.8 555.0,323.8 578.2,319.2 601.4,318.9 624.6,323.8 647.7,332.2 670.9,324.8 694.1,325.9 717.2,323.8 740.4,317.4 763.6,318.5 786.7,313.2 809.9,313.2 833.1,312.1 856.3,310.1 879.4,298.6 902.6,299.6 925.8,298.6 948.9,298.6 972.1,302.2 995.3,294.3 1018.4,291.6 1041.6,288.0 1064.8,284.8 1088.0,286.9 1111.1,285.9 1134.3,281.4 1157.5,281.2 1180.6,293.9 1203.8,288.2 1227.0,289.2 1250.1,282.5 1273.3,284.0 1296.5,277.0 1319.7,277.0 1342.8,277.0 1366.0,280.4 1389.2,285.4 1412.3,290.6 1435.5,293.6 1458.7,297.8 1481.8,288.0 1505.0,280.4 1528.2,275.0 1551.4,283.8 1574.5,287.3 1597.7,285.0 1620.9,287.5 1644.0,272.1 1667.2,251.8 1690.4,253.8 1713.5,251.8 1736.7,262.3 1759.9,249.6 1783.1,256.0" fill="none" stroke="#5a54d3" stroke-width="5" stroke-linejoin="round"/>
<rect x="-10.6" y="271.3" width="19.2" height="19.8" fill="#5a54d3"/>
<rect x="12.5" y="235.3" width="19.2" height="19.8" fill="#5a54d3"/>
<rect x="35.7" y="214.8" width="19.2" height="19.8" fill="#5a54d3"/>
<rect x="58.9" y="221.0" width="19.2" height="19.8" fill="#5a54d3"/>
<rect x="82.0" y="270.2" width="19.2" height="19.8" fill="#5a54d3"/>
<rect x="105.2" y="339.7" width="19.2" height="19.8" fill="#5a54d3"/>
<rect x="128.4" y="371.3" width="19.2" height="19.8" fill="#5a54d3"/>
<rect x="151.6" y="365.9" width="19.2" height="19.8" fill="#5a54d3"/>
<rect x="174.7" y="367.4" width="19.2" height="19.8" fill="#5a54d3"/>
<rect x="197.9" y="359.5" width="19.2" height="19.8" fill="#5a54d3"/>
<rect x="221.1" y="369.5" width="19.2" height="19.8" fill="#5a54d3"/>
<rect x="244.2" y="355.9" width="19.2" height="19.8" fill="#5a54d3"/>
<rect x="267.4" y="345.1" width="19.2" height="19.8" fill="#5a54d3"/>
<rect x="290.6" y="357.4" width="19.2" height="19.8" fill="#5a54d3"/>
<rect x="313.7" y="350.9" width="19.2" height="19.8" fill="#5a54d3"/>
<rect x="336.9" y="347.3" width="19.2" height="19.8" fill="#5a54d3"/>
<rect x="360.1" y="340.7" width="19.2" height="19.8" fill="#5a54d3"/>
<rect x="383.2" y="331.8" width="19.2" height="19.8" fill="#5a54d3"/>
<rect x="406.4" y="340.7" width="19.2" height="19.8" fill="#5a54d3"/>
<rect x="429.6" y="338.2" width="19.2" height="19.8" fill="#5a54d3"/>
<rect x="452.8" y="335.0" width="19.2" height="19.8" fill="#5a54d3"/>
<rect x="475.9" y="319.6" width="19.2" height="19.8" fill="#5a54d3"/>
<rect x="499.1" y="313.4" width="19.2" height="19.8" fill="#5a54d3"/>
<rect x="522.3" y="306.9" width="19.2" height="19.8" fill="#5a54d3"/>
<rect x="545.4" y="313.9" width="19.2" height="19.8" fill="#5a54d3"/>
<rect x="568.6" y="309.3" width="19.2" height="19.8" fill="#5a54d3"/>
<rect x="591.8" y="309.0" width="19.2" height="19.8" fill="#5a54d3"/>
<rect x="615.0" y="313.9" width="19.2" height="19.8" fill="#5a54d3"/>
<rect x="638.1" y="322.3" width="19.2" height="19.8" fill="#5a54d3"/>
<rect x="661.3" y="314.9" width="19.2" height="19.8" fill="#5a54d3"/>
<rect x="684.5" y="316.0" width="19.2" height="19.8" fill="#5a54d3"/>
<rect x="707.6" y="313.9" width="19.2" height="19.8" fill="#5a54d3"/>
<rect x="730.8" y="307.5" width="19.2" height="19.8" fill="#5a54d3"/>
<rect x="754.0" y="308.6" width="19.2" height="19.8" fill="#5a54d3"/>
<rect x="777.1" y="303.3" width="19.2" height="19.8" fill="#5a54d3"/>
<rect x="800.3" y="303.3" width="19.2" height="19.8" fill="#5a54d3"/>
<rect x="823.5" y="302.2" width="19.2" height="19.8" fill="#5a54d3"/>
<rect x="846.7" y="300.2" width="19.2" height="19.8" fill="#5a54d3"/>
<rect x="869.8" y="288.7" width="19.2" height="19.8" fill="#5a54d3"/>
<rect x="893.0" y="289.7" width="19.2" height="19.8" fill="#5a54d3"/>
<rect x="916.2" y="288.7" width="19.2" height="19.8" fill="#5a54d3"/>
<rect x="939.3" y="288.7" width="19.2" height="19.8" fill="#5a54d3"/>
<rect x="962.5" y="292.3" width="19.2" height="19.8" fill="#5a54d3"/>
<rect x="985.7" y="284.4" width="19.2" height="19.8" fill="#5a54d3"/>
<rect x="1008.8" y="281.7" width="19.2" height="19.8" fill="#5a54d3"/>
<rect x="1032.0" y="278.1" width="19.2" height="19.8" fill="#5a54d3"/>
<rect x="1055.2" y="274.9" width="19.2" height="19.8" fill="#5a54d3"/>
<rect x="1078.4" y="277.0" width="19.2" height="19.8" fill="#5a54d3"/>
<rect x="1101.5" y="276.0" width="19.2" height="19.8" fill="#5a54d3"/>
<rect x="1124.7" y="271.5" width="19.2" height="19.8" fill="#5a54d3"/>
<rect x="1147.9" y="271.3" width="19.2" height="19.8" fill="#5a54d3"/>
<rect x="1171.0" y="284.0" width="19.2" height="19.8" fill="#5a54d3"/>
<rect x="1194.2" y="278.3" width="19.2" height="19.8" fill="#5a54d3"/>
<rect x="1217.4" y="279.3" width="19.2" height="19.8" fill="#5a54d3"/>
<rect x="1240.5" y="272.6" width="19.2" height="19.8" fill="#5a54d3"/>
<rect x="1263.7" y="274.1" width="19.2" height="19.8" fill="#5a54d3"/>
<rect x="1286.9" y="267.1" width="19.2" height="19.8" fill="#5a54d3"/>
<rect x="1310.1" y="267.1" width="19.2" height="19.8" fill="#5a54d3"/>
<rect x="1333.2" y="267.1" width="19.2" height="19.8" fill="#5a54d3"/>
<rect x="1356.4" y="270.5" width="19.2" height="19.8" fill="#5a54d3"/>
<rect x="1379.6" y="275.5" width="19.2" height="19.8" fill="#5a54d3"/>
<rect x="1402.7" y="280.7" width="19.2" height="19.8" fill="#5a54d3"/>
<rect x="1425.9" y="283.7" width="19.2" height="19.8" fill="#5a54d3"/>
<rect x="1449.1" y="287.9" width="19.2" height="19.8" fill="#5a54d3"/>
<rect x="1472.2" y="278.1" width="19.2" height="19.8" fill="#5a54d3"/>
<rect x="1495.4" y="270.5" width="19.2" height="19.8" fill="#5a54d3"/>
<rect x="1518.6" y="265.1" width="19.2" height="19.8" fill="#5a54d3"/>
<rect x="1541.8" y="273.9" width="19.2" height="19.8" fill="#5a54d3"/>
<rect x="1564.9" y="277.4" width="19.2" height="19.8" fill="#5a54d3"/>
<rect x="1588.1" y="275.1" width="19.2" height="19.8" fill="#5a54d3"/>
<rect x="1611.3" y="277.6" width="19.2" height="19.8" fill="#5a54d3"/>
<rect x="1634.4" y="262.2" width="19.2" height="19.8" fill="#5a54d3"/>
<rect x="1657.6" y="241.9" width="19.2" height="19.8" fill="#5a54d3"/>
<rect x="1680.8" y="243.9" width="19.2" height="19.8" fill="#5a54d3"/>
<rect x="1703.9" y="241.9" width="19.2" height="19.8" fill="#5a54d3"/>
<rect x="1727.1" y="252.4" width="19.2" height="19.8" fill="#5a54d3"/>
<rect x="1750.3" y="239.7" width="19.2" height="19.8" fill="#5a54d3"/>
<rect x="1773.5" y="246.1" width="19.2" height="19.8" fill="#5a54d3"/>
<g opacity="0.8"><polyline points="-1.0,153.5 22.1,130.1 45.3,110.4 68.5,126.5 91.6,195.0 114.8,272.2 138.0,300.3 161.2,314.7 184.3,287.3 207.5,241.7 230.7,264.3 253.8,262.2 277.0,258.6 300.2,257.5 323.3,274.0 346.5,276.6 369.7,283.1 392.9,271.9 416.0,271.5 439.2,268.8 462.4,271.9 485.5,261.4 508.7,268.3 531.9,274.7 555.0,256.1 578.2,252.3 601.4,249.3 624.6,254.6 647.7,252.9 670.9,254.6 694.1,252.5 717.2,254.6 740.4,252.5 763.6,255.4 786.7,250.3 809.9,254.6 833.1,245.1 856.3,241.3 879.4,236.6 902.6,239.3 925.8,239.3 948.9,241.4 972.1,245.7 995.3,237.2 1018.4,239.3 1041.6,237.2 1064.8,228.8 1088.0,227.7 1111.1,224.5 1134.3,217.2 1157.5,204.6 1180.6,203.6 1203.8,190.9 1227.0,191.9 1250.1,183.0 1273.3,176.1 1296.5,168.2 1319.7,167.0 1342.8,152.8 1366.0,147.5 1389.2,147.1 1412.3,147.4 1435.5,146.5 1458.7,150.0 1481.8,149.3 1505.0,135.4 1528.2,131.4 1551.4,134.4 1574.5,131.4 1597.7,127.5 1620.9,128.2 1644.0,111.8 1667.2,101.7 1690.4,94.5 1713.5,84.0 1736.7,86.8 1759.9,73.6 1783.1,74.4" fill="none" stroke="#000" stroke-width="8.4" stroke-linejoin="round"/>
<rect x="-11.8" y="142.4" width="21.6" height="22.2" fill="#000"/>
<rect x="11.3" y="119.0" width="21.6" height="22.2" fill="#000"/>
<rect x="34.5" y="99.3" width="21.6" height="22.2" fill="#000"/>
<rect x="57.7" y="115.4" width="21.6" height="22.2" fill="#000"/>
<rect x="80.8" y="183.9" width="21.6" height="22.2" fill="#000"/>
<rect x="104.0" y="261.1" width="21.6" height="22.2" fill="#000"/>
<rect x="127.2" y="289.2" width="21.6" height="22.2" fill="#000"/>
<rect x="150.4" y="303.6" width="21.6" height="22.2" fill="#000"/>
<rect x="173.5" y="276.2" width="21.6" height="22.2" fill="#000"/>
<rect x="196.7" y="230.6" width="21.6" height="22.2" fill="#000"/>
<rect x="219.9" y="253.2" width="21.6" height="22.2" fill="#000"/>
<rect x="243.0" y="251.1" width="21.6" height="22.2" fill="#000"/>
<rect x="266.2" y="247.5" width="21.6" height="22.2" fill="#000"/>
<rect x="289.4" y="246.4" width="21.6" height="22.2" fill="#000"/>
<rect x="312.5" y="262.9" width="21.6" height="22.2" fill="#000"/>
<rect x="335.7" y="265.5" width="21.6" height="22.2" fill="#000"/>
<rect x="358.9" y="272.0" width="21.6" height="22.2" fill="#000"/>
<rect x="382.1" y="260.8" width="21.6" height="22.2" fill="#000"/>
<rect x="405.2" y="260.4" width="21.6" height="22.2" fill="#000"/>
<rect x="428.4" y="257.7" width="21.6" height="22.2" fill="#000"/>
<rect x="451.6" y="260.8" width="21.6" height="22.2" fill="#000"/>
<rect x="474.7" y="250.3" width="21.6" height="22.2" fill="#000"/>
<rect x="497.9" y="257.2" width="21.6" height="22.2" fill="#000"/>
<rect x="521.1" y="263.6" width="21.6" height="22.2" fill="#000"/>
<rect x="544.2" y="245.0" width="21.6" height="22.2" fill="#000"/>
<rect x="567.4" y="241.2" width="21.6" height="22.2" fill="#000"/>
<rect x="590.6" y="238.2" width="21.6" height="22.2" fill="#000"/>
<rect x="613.8" y="243.5" width="21.6" height="22.2" fill="#000"/>
<rect x="636.9" y="241.8" width="21.6" height="22.2" fill="#000"/>
<rect x="660.1" y="243.5" width="21.6" height="22.2" fill="#000"/>
<rect x="683.3" y="241.4" width="21.6" height="22.2" fill="#000"/>
<rect x="706.4" y="243.5" width="21.6" height="22.2" fill="#000"/>
<rect x="729.6" y="241.4" width="21.6" height="22.2" fill="#000"/>
<rect x="752.8" y="244.3" width="21.6" height="22.2" fill="#000"/>
<rect x="775.9" y="239.2" width="21.6" height="22.2" fill="#000"/>
<rect x="799.1" y="243.5" width="21.6" height="22.2" fill="#000"/>
<rect x="822.3" y="234.0" width="21.6" height="22.2" fill="#000"/>
<rect x="845.5" y="230.2" width="21.6" height="22.2" fill="#000"/>
<rect x="868.6" y="225.5" width="21.6" height="22.2" fill="#000"/>
<rect x="891.8" y="228.2" width="21.6" height="22.2" fill="#000"/>
<rect x="915.0" y="228.2" width="21.6" height="22.2" fill="#000"/>
<rect x="938.1" y="230.3" width="21.6" height="22.2" fill="#000"/>
<rect x="961.3" y="234.6" width="21.6" height="22.2" fill="#000"/>
<rect x="984.5" y="226.1" width="21.6" height="22.2" fill="#000"/>
<rect x="1007.6" y="228.2" width="21.6" height="22.2" fill="#000"/>
<rect x="1030.8" y="226.1" width="21.6" height="22.2" fill="#000"/>
<rect x="1054.0" y="217.7" width="21.6" height="22.2" fill="#000"/>
<rect x="1077.2" y="216.6" width="21.6" height="22.2" fill="#000"/>
<rect x="1100.3" y="213.4" width="21.6" height="22.2" fill="#000"/>
<rect x="1123.5" y="206.1" width="21.6" height="22.2" fill="#000"/>
<rect x="1146.7" y="193.5" width="21.6" height="22.2" fill="#000"/>
<rect x="1169.8" y="192.5" width="21.6" height="22.2" fill="#000"/>
<rect x="1193.0" y="179.8" width="21.6" height="22.2" fill="#000"/>
<rect x="1216.2" y="180.8" width="21.6" height="22.2" fill="#000"/>
<rect x="1239.3" y="171.9" width="21.6" height="22.2" fill="#000"/>
<rect x="1262.5" y="165.0" width="21.6" height="22.2" fill="#000"/>
<rect x="1285.7" y="157.1" width="21.6" height="22.2" fill="#000"/>
<rect x="1308.9" y="155.9" width="21.6" height="22.2" fill="#000"/>
<rect x="1332.0" y="141.7" width="21.6" height="22.2" fill="#000"/>
<rect x="1355.2" y="136.4" width="21.6" height="22.2" fill="#000"/>
<rect x="1378.4" y="136.0" width="21.6" height="22.2" fill="#000"/>
<rect x="1401.5" y="136.3" width="21.6" height="22.2" fill="#000"/>
<rect x="1424.7" y="135.4" width="21.6" height="22.2" fill="#000"/>
<rect x="1447.9" y="138.9" width="21.6" height="22.2" fill="#000"/>
<rect x="1471.0" y="138.2" width="21.6" height="22.2" fill="#000"/>
<rect x="1494.2" y="124.3" width="21.6" height="22.2" fill="#000"/>
<rect x="1517.4" y="120.3" width="21.6" height="22.2" fill="#000"/>
<rect x="1540.6" y="123.3" width="21.6" height="22.2" fill="#000"/>
<rect x="1563.7" y="120.3" width="21.6" height="22.2" fill="#000"/>
<rect x="1586.9" y="116.4" width="21.6" height="22.2" fill="#000"/>
<rect x="1610.1" y="117.1" width="21.6" height="22.2" fill="#000"/>
<rect x="1633.2" y="100.7" width="21.6" height="22.2" fill="#000"/>
<rect x="1656.4" y="90.6" width="21.6" height="22.2" fill="#000"/>
<rect x="1679.6" y="83.4" width="21.6" height="22.2" fill="#000"/>
<rect x="1702.7" y="72.9" width="21.6" height="22.2" fill="#000"/>
<rect x="1725.9" y="75.7" width="21.6" height="22.2" fill="#000"/>
<rect x="1749.1" y="62.5" width="21.6" height="22.2" fill="#000"/>
<rect x="1772.3" y="63.3" width="21.6" height="22.2" fill="#000"/>
</g>
<polyline points="-1.0,153.5 22.1,130.1 45.3,110.4 68.5,126.5 91.6,195.0 114.8,272.2 138.0,300.3 161.2,314.7 184.3,287.3 207.5,241.7 230.7,264.3 253.8,262.2 277.0,258.6 300.2,257.5 323.3,274.0 346.5,276.6 369.7,283.1 392.9,271.9 416.0,271.5 439.2,268.8 462.4,271.9 485.5,261.4 508.7,268.3 531.9,274.7 555.0,256.1 578.2,252.3 601.4,249.3 624.6,254.6 647.7,252.9 670.9,254.6 694.1,252.5 717.2,254.6 740.4,252.5 763.6,255.4 786.7,250.3 809.9,254.6 833.1,245.1 856.3,241.3 879.4,236.6 902.6,239.3 925.8,239.3 948.9,241.4 972.1,245.7 995.3,237.2 1018.4,239.3 1041.6,237.2 1064.8,228.8 1088.0,227.7 1111.1,224.5 1134.3,217.2 1157.5,204.6 1180.6,203.6 1203.8,190.9 1227.0,191.9 1250.1,183.0 1273.3,176.1 1296.5,168.2 1319.7,167.0 1342.8,152.8 1366.0,147.5 1389.2,147.1 1412.3,147.4 1435.5,146.5 1458.7,150.0 1481.8,149.3 1505.0,135.4 1528.2,131.4 1551.4,134.4 1574.5,131.4 1597.7,127.5 1620.9,128.2 1644.0,111.8 1667.2,101.7 1690.4,94.5 1713.5,84.0 1736.7,86.8 1759.9,73.6 1783.1,74.4" fill="none" stroke="#4fc9c8" stroke-width="6" stroke-linejoin="round"/>
<rect x="-10.6" y="143.6" width="19.2" height="19.8" fill="#4fc9c8"/>
<rect x="12.5" y="120.2" width="19.2" height="19.8" fill="#4fc9c8"/>
<rect x="35.7" y="100.5" width="19.2" height="19.8" fill="#4fc9c8"/>
<rect x="58.9" y="116.6" width="19.2" height="19.8" fill="#4fc9c8"/>
<rect x="82.0" y="185.1" width="19.2" height="19.8" fill="#4fc9c8"/>
<rect x="105.2" y="262.3" width="19.2" height="19.8" fill="#4fc9c8"/>
<rect x="128.4" y="290.4" width="19.2" height="19.8" fill="#4fc9c8"/>
<rect x="151.6" y="304.8" width="19.2" height="19.8" fill="#4fc9c8"/>
<rect x="174.7" y="277.4" width="19.2" height="19.8" fill="#4fc9c8"/>
<rect x="197.9" y="231.8" width="19.2" height="19.8" fill="#4fc9c8"/>
<rect x="221.1" y="254.4" width="19.2" height="19.8" fill="#4fc9c8"/>
<rect x="244.2" y="252.3" width="19.2" height="19.8" fill="#4fc9c8"/>
<rect x="267.4" y="248.7" width="19.2" height="19.8" fill="#4fc9c8"/>
<rect x="290.6" y="247.6" width="19.2" height="19.8" fill="#4fc9c8"/>
<rect x="313.7" y="264.1" width="19.2" height="19.8" fill="#4fc9c8"/>
<rect x="336.9" y="266.7" width="19.2" height="19.8" fill="#4fc9c8"/>
<rect x="360.1" y="273.2" width="19.2" height="19.8" fill="#4fc9c8"/>
<rect x="383.2" y="262.0" width="19.2" height="19.8" fill="#4fc9c8"/>
<rect x="406.4" y="261.6" width="19.2" height="19.8" fill="#4fc9c8"/>
<rect x="429.6" y="258.9" width="19.2" height="19.8" fill="#4fc9c8"/>
<rect x="452.8" y="262.0" width="19.2" height="19.8" fill="#4fc9c8"/>
<rect x="475.9" y="251.5" width="19.2" height="19.8" fill="#4fc9c8"/>
<rect x="499.1" y="258.4" width="19.2" height="19.8" fill="#4fc9c8"/>
<rect x="522.3" y="264.8" width="19.2" height="19.8" fill="#4fc9c8"/>
<rect x="545.4" y="246.2" width="19.2" height="19.8" fill="#4fc9c8"/>
<rect x="568.6" y="242.4" width="19.2" height="19.8" fill="#4fc9c8"/>
<rect x="591.8" y="239.4" width="19.2" height="19.8" fill="#4fc9c8"/>
<rect x="615.0" y="244.7" width="19.2" height="19.8" fill="#4fc9c8"/>
<rect x="638.1" y="243.0" width="19.2" height="19.8" fill="#4fc9c8"/>
<rect x="661.3" y="244.7" width="19.2" height="19.8" fill="#4fc9c8"/>
<rect x="684.5" y="242.6" width="19.2" height="19.8" fill="#4fc9c8"/>
<rect x="707.6" y="244.7" width="19.2" height="19.8" fill="#4fc9c8"/>
<rect x="730.8" y="242.6" width="19.2" height="19.8" fill="#4fc9c8"/>
<rect x="754.0" y="245.5" width="19.2" height="19.8" fill="#4fc9c8"/>
<rect x="777.1" y="240.4" width="19.2" height="19.8" fill="#4fc9c8"/>
<rect x="800.3" y="244.7" width="19.2" height="19.8" fill="#4fc9c8"/>
<rect x="823.5" y="235.2" width="19.2" height="19.8" fill="#4fc9c8"/>
<rect x="846.7" y="231.4" width="19.2" height="19.8" fill="#4fc9c8"/>
<rect x="869.8" y="226.7" width="19.2" height="19.8" fill="#4fc9c8"/>
<rect x="893.0" y="229.4" width="19.2" height="19.8" fill="#4fc9c8"/>
<rect x="916.2" y="229.4" width="19.2" height="19.8" fill="#4fc9c8"/>
<rect x="939.3" y="231.5" width="19.2" height="19.8" fill="#4fc9c8"/>
<rect x="962.5" y="235.8" width="19.2" height="19.8" fill="#4fc9c8"/>
<rect x="985.7" y="227.3" width="19.2" height="19.8" fill="#4fc9c8"/>
<rect x="1008.8" y="229.4" width="19.2" height="19.8" fill="#4fc9c8"/>
<rect x="1032.0" y="227.3" width="19.2" height="19.8" fill="#4fc9c8"/>
<rect x="1055.2" y="218.9" width="19.2" height="19.8" fill="#4fc9c8"/>
<rect x="1078.4" y="217.8" width="19.2" height="19.8" fill="#4fc9c8"/>
<rect x="1101.5" y="214.6" width="19.2" height="19.8" fill="#4fc9c8"/>
<rect x="1124.7" y="207.3" width="19.2" height="19.8" fill="#4fc9c8"/>
<rect x="1147.9" y="194.7" width="19.2" height="19.8" fill="#4fc9c8"/>
<rect x="1171.0" y="193.7" width="19.2" height="19.8" fill="#4fc9c8"/>
<rect x="1194.2" y="181.0" width="19.2" height="19.8" fill="#4fc9c8"/>
<rect x="1217.4" y="182.0" width="19.2" height="19.8" fill="#4fc9c8"/>
<rect x="1240.5" y="173.1" width="19.2" height="19.8" fill="#4fc9c8"/>
<rect x="1263.7" y="166.2" width="19.2" height="19.8" fill="#4fc9c8"/>
<rect x="1286.9" y="158.3" width="19.2" height="19.8" fill="#4fc9c8"/>
<rect x="1310.1" y="157.1" width="19.2" height="19.8" fill="#4fc9c8"/>
<rect x="1333.2" y="142.9" width="19.2" height="19.8" fill="#4fc9c8"/>
<rect x="1356.4" y="137.6" width="19.2" height="19.8" fill="#4fc9c8"/>
<rect x="1379.6" y="137.2" width="19.2" height="19.8" fill="#4fc9c8"/>
<rect x="1402.7" y="137.5" width="19.2" height="19.8" fill="#4fc9c8"/>
<rect x="1425.9" y="136.6" width="19.2" height="19.8" fill="#4fc9c8"/>
<rect x="1449.1" y="140.1" width="19.2" height="19.8" fill="#4fc9c8"/>
<rect x="1472.2" y="139.4" width="19.2" height="19.8" fill="#4fc9c8"/>
<rect x="1495.4" y="125.5" width="19.2" height="19.8" fill="#4fc9c8"/>
<rect x="1518.6" y="121.5" width="19.2" height="19.8" fill="#4fc9c8"/>
<rect x="1541.8" y="124.5" width="19.2" height="19.8" fill="#4fc9c8"/>
<rect x="1564.9" y="121.5" width="19.2" height="19.8" fill="#4fc9c8"/>
<rect x="1588.1" y="117.6" width="19.2" height="19.8" fill="#4fc9c8"/>
<rect x="1611.3" y="118.3" width="19.2" height="19.8" fill="#4fc9c8"/>
<rect x="1634.4" y="101.9" width="19.2" height="19.8" fill="#4fc9c8"/>
<rect x="1657.6" y="91.8" width="19.2" height="19.8" fill="#4fc9c8"/>
<rect x="1680.8" y="84.6" width="19.2" height="19.8" fill="#4fc9c8"/>
<rect x="1703.9" y="74.1" width="19.2" height="19.8" fill="#4fc9c8"/>
<rect x="1727.1" y="76.9" width="19.2" height="19.8" fill="#4fc9c8"/>
<rect x="1750.3" y="63.7" width="19.2" height="19.8" fill="#4fc9c8"/>
<rect x="1773.5" y="64.5" width="19.2" height="19.8" fill="#4fc9c8"/>
<path d="M148.6 72 C185 72 210 90 210 116 C210 140 192 152 172 158 C155 163 146 172 139 188 C130 205 122 216 111 216 C90 216 78 180 78 140 C78 100 105 72 148.6 72 Z" fill="#fff"/>
</svg>
<svg width="330" height="329" viewBox="0 0 330 329" style="position:absolute;left:72px;top:543px">
<defs><clipPath id="pc"><rect x="0" y="0" width="330" height="329" rx="27" ry="27"/></clipPath>
<filter id="bl" x="-5%" y="-5%" width="110%" height="110%"><feGaussianBlur stdDeviation="1.0"/></filter>
<filter id="hairtex" x="0" y="0" width="100%" height="100%" color-interpolation-filters="sRGB">
 <feTurbulence type="turbulence" baseFrequency="0.28" numOctaves="2" seed="3" result="t"/>
 <feColorMatrix in="t" type="matrix" values="0 0 0 0 0.62  0 0 0 0 0.34  0 0 0 0 0.16  0 0 0 2.6 -0.5" result="c"/>
 <feComposite in="c" in2="SourceGraphic" operator="in"/>
</filter>
<filter id="shirttex" x="0" y="0" width="100%" height="100%" color-interpolation-filters="sRGB">
 <feTurbulence type="turbulence" baseFrequency="0.09 0.14" numOctaves="2" seed="8" result="t"/>
 <feColorMatrix in="t" type="matrix" values="0 0 0 0 0.14  0 0 0 0 0.18  0 0 0 0 0.34  0 0 0 3.5 -1.0" result="c"/>
 <feComposite in="c" in2="SourceGraphic" operator="in"/>
</filter>
<radialGradient id="face" cx="0.5" cy="0.38" r="0.62"><stop offset="0" stop-color="#f4bc90"/><stop offset="0.6" stop-color="#e6a070"/><stop offset="1" stop-color="#c67c4a"/></radialGradient>
<linearGradient id="shirt" x1="0" y1="0" x2="1" y2="0"><stop offset="0" stop-color="#aab9ce"/><stop offset="0.5" stop-color="#a0b2ca"/><stop offset="1" stop-color="#a8b8cc"/></linearGradient>
</defs>
<g clip-path="url(#pc)"><g filter="url(#bl)">
<rect x="-5" y="-5" width="340" height="340" fill="#8c4418"/>
<rect x="0" y="0" width="330" height="20" fill="#9c4e1e"/>
<rect x="0" y="9" width="330" height="3" fill="#7a3e16" opacity="0.7"/>
<path d="M4 62 L4 38 Q8 24 24 22 L118 21 Q126 22 130 30 L130 62 Z" fill="#361a0a"/>
<rect x="7" y="27" width="111" height="33" fill="#361a0a"/>
<rect x="8.0" y="29.4" width="7.0" height="30.6" fill="#2e3248"/>
<rect x="15.8" y="34.8" width="4.0" height="25.2" fill="#c05a30"/>
<rect x="20.6" y="35.5" width="4.0" height="24.5" fill="#3a5236"/>
<rect x="24.6" y="32.0" width="3.0" height="28.0" fill="#b08a58"/>
<rect x="28.4" y="31.1" width="7.0" height="28.9" fill="#5a3e24"/>
<rect x="35.4" y="35.8" width="3.0" height="24.2" fill="#8a6a44"/>
<rect x="38.4" y="30.1" width="2.5" height="29.9" fill="#a87c4e"/>
<rect x="41.7" y="32.1" width="4.0" height="27.9" fill="#3a5236"/>
<rect x="46.5" y="31.0" width="2.5" height="29.0" fill="#2e3248"/>
<rect x="49.0" y="28.3" width="6.0" height="31.7" fill="#c8b088"/>
<rect x="55.0" y="30.2" width="5.0" height="29.8" fill="#c05a30"/>
<rect x="60.0" y="35.7" width="2.5" height="24.3" fill="#a83a26"/>
<rect x="63.3" y="29.5" width="3.0" height="30.5" fill="#bca47c"/>
<rect x="66.3" y="29.5" width="2.5" height="30.5" fill="#c4a878"/>
<rect x="68.8" y="28.9" width="4.0" height="31.1" fill="#b08a58"/>
<rect x="73.6" y="28.5" width="6.0" height="31.5" fill="#bca47c"/>
<rect x="80.4" y="31.8" width="3.0" height="28.2" fill="#8a6a44"/>
<rect x="83.4" y="35.5" width="5.0" height="24.5" fill="#a87c4e"/>
<rect x="88.4" y="30.2" width="6.0" height="29.8" fill="#a83a26"/>
<rect x="94.4" y="30.6" width="4.0" height="29.4" fill="#c4a878"/>
<rect x="98.4" y="29.9" width="7.0" height="30.1" fill="#5a3e24"/>
<rect x="105.4" y="32.2" width="7.0" height="27.8" fill="#3a2616"/>
<rect x="113.2" y="35.3" width="4.8" height="24.7" fill="#4a3220"/>
<rect x="0" y="59" width="175" height="9" fill="#964a1e"/>
<rect x="0" y="65.5" width="175" height="2.5" fill="#542810"/>
<rect x="2" y="68" width="118" height="44" fill="#361a0a"/>
<rect x="3.0" y="77.5" width="2.5" height="34.5" fill="#3a5236"/>
<rect x="5.5" y="78.3" width="4.0" height="33.7" fill="#a83a26"/>
<rect x="9.5" y="78.1" width="4.0" height="33.9" fill="#7a2a16"/>
<rect x="13.5" y="71.6" width="5.0" height="40.4" fill="#bca47c"/>
<rect x="18.5" y="79.4" width="3.0" height="32.6" fill="#d0b890"/>
<rect x="21.5" y="76.4" width="5.0" height="35.6" fill="#2e3248"/>
<rect x="26.5" y="71.5" width="7.0" height="40.5" fill="#3a2616"/>
<rect x="34.3" y="73.7" width="4.0" height="38.3" fill="#3a5236"/>
<rect x="38.3" y="72.7" width="4.0" height="39.3" fill="#5a3e24"/>
<rect x="42.3" y="71.0" width="6.0" height="41.0" fill="#c8b088"/>
<rect x="49.1" y="79.2" width="2.5" height="32.8" fill="#b08a58"/>
<rect x="51.6" y="72.5" width="4.0" height="39.5" fill="#bca47c"/>
<rect x="55.6" y="71.6" width="6.0" height="40.4" fill="#7a5a3a"/>
<rect x="61.6" y="70.5" width="4.0" height="41.5" fill="#c8b088"/>
<rect x="65.6" y="75.3" width="4.0" height="36.7" fill="#c8b088"/>
<rect x="69.6" y="70.6" width="4.0" height="41.4" fill="#8a6a44"/>
<rect x="73.6" y="77.5" width="3.0" height="34.5" fill="#2e3248"/>
<rect x="76.6" y="79.8" width="2.5" height="32.2" fill="#3a5236"/>
<rect x="79.1" y="79.3" width="4.0" height="32.7" fill="#3a2616"/>
<rect x="83.9" y="73.4" width="5.0" height="38.6" fill="#c05a30"/>
<rect x="88.9" y="70.6" width="2.5" height="41.4" fill="#7a5a3a"/>
<rect x="91.4" y="70.2" width="5.0" height="41.8" fill="#c4a878"/>
<rect x="96.4" y="79.6" width="7.0" height="32.4" fill="#3a5236"/>
<rect x="103.4" y="69.8" width="4.0" height="42.2" fill="#c8b088"/>
<rect x="108.2" y="72.5" width="5.0" height="39.5" fill="#3a2616"/>
<rect x="113.2" y="79.4" width="5.0" height="32.6" fill="#7a5a3a"/>
<rect x="118.2" y="70.3" width="1.8" height="41.7" fill="#c4a878"/>
<rect x="0" y="112" width="175" height="8" fill="#964a1e"/>
<rect x="0" y="117.5" width="175" height="2.5" fill="#542810"/>
<rect x="2" y="120" width="118" height="51" fill="#361a0a"/>
<rect x="3.0" y="126.6" width="2.5" height="44.4" fill="#bca47c"/>
<rect x="6.3" y="126.8" width="2.5" height="44.2" fill="#c8b088"/>
<rect x="8.8" y="122.1" width="3.0" height="48.9" fill="#4a3220"/>
<rect x="11.8" y="122.8" width="6.0" height="48.2" fill="#2e3248"/>
<rect x="18.6" y="124.0" width="7.0" height="47.0" fill="#c8b088"/>
<rect x="25.6" y="126.9" width="5.0" height="44.1" fill="#7a5a3a"/>
<rect x="30.6" y="122.6" width="4.0" height="48.4" fill="#a83a26"/>
<rect x="35.4" y="131.1" width="7.0" height="39.9" fill="#c4a878"/>
<rect x="42.4" y="132.5" width="5.0" height="38.5" fill="#8a6a44"/>
<rect x="47.4" y="126.2" width="5.0" height="44.8" fill="#2e3248"/>
<rect x="53.2" y="130.3" width="4.0" height="40.7" fill="#7a2a16"/>
<rect x="57.2" y="124.4" width="6.0" height="46.6" fill="#8a6a44"/>
<rect x="63.2" y="131.6" width="6.0" height="39.4" fill="#a87c4e"/>
<rect x="69.2" y="132.6" width="4.0" height="38.4" fill="#9a4e28"/>
<rect x="73.2" y="122.7" width="3.0" height="48.3" fill="#7a2a16"/>
<rect x="76.2" y="128.8" width="3.0" height="42.2" fill="#7a2a16"/>
<rect x="79.2" y="129.6" width="6.0" height="41.4" fill="#c05a30"/>
<rect x="86.0" y="125.5" width="5.0" height="45.5" fill="#2e3248"/>
<rect x="91.0" y="124.1" width="3.0" height="46.9" fill="#7a2a16"/>
<rect x="94.0" y="127.3" width="5.0" height="43.7" fill="#3a5236"/>
<rect x="99.0" y="129.3" width="4.0" height="41.7" fill="#8a6a44"/>
<rect x="103.0" y="131.4" width="5.0" height="39.6" fill="#3a2616"/>
<rect x="108.0" y="128.8" width="3.0" height="42.2" fill="#d8c49a"/>
<rect x="111.0" y="125.9" width="3.0" height="45.1" fill="#8a6a44"/>
<rect x="114.8" y="132.1" width="5.0" height="38.9" fill="#c4a878"/>
<rect x="0" y="170" width="175" height="8" fill="#964a1e"/>
<rect x="0" y="175.5" width="175" height="2.5" fill="#542810"/>
<rect x="0" y="180" width="64" height="58" fill="#361a0a"/>
<rect x="1.0" y="193.7" width="2.5" height="44.3" fill="#7a2a16"/>
<rect x="3.5" y="190.8" width="4.0" height="47.2" fill="#d0b890"/>
<rect x="7.5" y="183.3" width="6.0" height="54.7" fill="#bca47c"/>
<rect x="13.5" y="189.9" width="7.0" height="48.1" fill="#c4a878"/>
<rect x="21.3" y="189.8" width="5.0" height="48.2" fill="#8a6a44"/>
<rect x="26.3" y="193.3" width="3.0" height="44.7" fill="#bca47c"/>
<rect x="29.3" y="188.8" width="5.0" height="49.2" fill="#a87c4e"/>
<rect x="34.3" y="191.4" width="2.5" height="46.6" fill="#c8b088"/>
<rect x="36.8" y="191.5" width="7.0" height="46.5" fill="#4a3220"/>
<rect x="43.8" y="183.4" width="7.0" height="54.6" fill="#8a6a44"/>
<rect x="50.8" y="185.1" width="6.0" height="52.9" fill="#5a3e24"/>
<rect x="56.8" y="189.7" width="4.0" height="48.3" fill="#c05a30"/>
<rect x="61.6" y="188.2" width="2.4" height="49.8" fill="#c8b088"/>
<rect x="0" y="238" width="175" height="7" fill="#964a1e"/>
<rect x="0" y="242.5" width="175" height="2.5" fill="#542810"/>
<rect x="0" y="245" width="64" height="25" fill="#3a1c0c"/>
<rect x="4" y="254" width="56" height="12" fill="#5a3a2a" opacity="0.6"/>
<rect x="0" y="270" width="70" height="65" fill="#8a7a68"/>
<path d="M0 300 Q30 295 60 305 L60 335 L0 335 Z" fill="#766856"/>
<path d="M-2 274 L40 274 Q44 276 40 290 Q30 300 10 298 L-2 296 Z" fill="#24201c"/>
<path d="M-2 272 L42 273" stroke="#4a4440" stroke-width="3"/>
<path d="M176 64 L176 26 Q180 17 196 17 L306 17 Q316 18 320 30 L323 64 Z" fill="#361a0a"/>
<rect x="208" y="38" width="82" height="21" fill="#361a0a"/>
<rect x="209.0" y="41.2" width="7.0" height="17.8" fill="#3a5236"/>
<rect x="216.0" y="42.3" width="5.0" height="16.7" fill="#bca47c"/>
<rect x="221.0" y="39.6" width="5.0" height="19.4" fill="#d8c49a"/>
<rect x="226.0" y="42.9" width="7.0" height="16.1" fill="#d8c49a"/>
<rect x="233.0" y="40.8" width="2.5" height="18.2" fill="#c4a878"/>
<rect x="235.5" y="41.1" width="6.0" height="17.9" fill="#a83a26"/>
<rect x="242.3" y="40.4" width="3.0" height="18.6" fill="#c8b088"/>
<rect x="246.1" y="39.2" width="6.0" height="19.8" fill="#bca47c"/>
<rect x="252.1" y="41.5" width="4.0" height="17.5" fill="#3a2616"/>
<rect x="256.1" y="39.3" width="6.0" height="19.7" fill="#7a5a3a"/>
<rect x="262.1" y="42.9" width="3.0" height="16.1" fill="#c4a878"/>
<rect x="265.1" y="40.3" width="4.0" height="18.7" fill="#c4a878"/>
<rect x="269.1" y="43.1" width="4.0" height="15.9" fill="#c4a878"/>
<rect x="273.1" y="40.2" width="5.0" height="18.8" fill="#d0b890"/>
<rect x="278.9" y="41.4" width="3.0" height="17.6" fill="#a83a26"/>
<rect x="281.9" y="40.3" width="4.0" height="18.7" fill="#4a3220"/>
<rect x="285.9" y="40.7" width="4.1" height="18.3" fill="#c05a30"/>
<rect x="221" y="30" width="52" height="7" fill="#d0ac72"/>
<rect x="292" y="33" width="26" height="7" fill="#c09870"/>
<rect x="292" y="40" width="26" height="8" fill="#a05236"/>
<rect x="292" y="48" width="26" height="5" fill="#3a6040"/>
<rect x="292" y="53" width="26" height="6" fill="#bca888"/>
<rect x="170" y="58" width="160" height="8" fill="#964a1e"/>
<rect x="170" y="63.5" width="160" height="2.5" fill="#542810"/>
<rect x="212" y="66" width="112" height="41" fill="#361a0a"/>
<rect x="213.0" y="69.0" width="4.0" height="38.0" fill="#d8c49a"/>
<rect x="217.0" y="69.1" width="4.0" height="37.9" fill="#3a2616"/>
<rect x="221.0" y="68.6" width="5.0" height="38.4" fill="#a87c4e"/>
<rect x="226.0" y="75.3" width="4.0" height="31.7" fill="#8a6a44"/>
<rect x="230.0" y="68.7" width="4.0" height="38.3" fill="#3a2616"/>
<rect x="234.0" y="73.7" width="5.0" height="33.3" fill="#4a3220"/>
<rect x="239.8" y="75.5" width="4.0" height="31.5" fill="#c4a878"/>
<rect x="243.8" y="71.9" width="4.0" height="35.1" fill="#9a4e28"/>
<rect x="247.8" y="70.5" width="3.0" height="36.5" fill="#a87c4e"/>
<rect x="250.8" y="72.7" width="3.0" height="34.3" fill="#c4a878"/>
<rect x="253.8" y="76.0" width="7.0" height="31.0" fill="#5a3e24"/>
<rect x="260.8" y="75.8" width="4.0" height="31.2" fill="#5a3e24"/>
<rect x="264.8" y="71.8" width="3.0" height="35.2" fill="#3a2616"/>
<rect x="268.6" y="70.0" width="3.0" height="37.0" fill="#a87c4e"/>
<rect x="272.4" y="73.3" width="7.0" height="33.7" fill="#9a4e28"/>
<rect x="280.2" y="71.6" width="4.0" height="35.4" fill="#c4a878"/>
<rect x="284.2" y="75.7" width="4.0" height="31.3" fill="#2e3248"/>
<rect x="288.2" y="73.5" width="5.0" height="33.5" fill="#8a6a44"/>
<rect x="293.2" y="72.4" width="3.0" height="34.6" fill="#c4a878"/>
<rect x="296.2" y="69.6" width="3.0" height="37.4" fill="#bca47c"/>
<rect x="299.2" y="69.6" width="5.0" height="37.4" fill="#7a2a16"/>
<rect x="304.2" y="70.2" width="3.0" height="36.8" fill="#5a3e24"/>
<rect x="308.0" y="68.7" width="4.0" height="38.3" fill="#d8c49a"/>
<rect x="312.0" y="70.0" width="6.0" height="37.0" fill="#bca47c"/>
<rect x="318.0" y="76.8" width="4.0" height="30.2" fill="#a87c4e"/>
<rect x="322.0" y="76.5" width="2.0" height="30.5" fill="#9a4e28"/>
<rect x="278" y="80" width="20" height="27" fill="#c4b498"/>
<rect x="170" y="106" width="160" height="8" fill="#964a1e"/>
<rect x="170" y="111.5" width="160" height="2.5" fill="#542810"/>
<rect x="190" y="114" width="140" height="14" fill="#361a0a"/>
<rect x="200" y="127" width="122" height="39" fill="#361a0a"/>
<rect x="201.0" y="135.4" width="4.0" height="30.6" fill="#3a5236"/>
<rect x="205.0" y="131.7" width="4.0" height="34.3" fill="#5a3e24"/>
<rect x="209.0" y="133.1" width="6.0" height="32.9" fill="#7a5a3a"/>
<rect x="215.0" y="130.8" width="3.0" height="35.2" fill="#c4a878"/>
<rect x="218.0" y="131.0" width="3.0" height="35.0" fill="#7a2a16"/>
<rect x="221.8" y="133.2" width="6.0" height="32.8" fill="#8a6a44"/>
<rect x="228.6" y="137.0" width="2.5" height="29.0" fill="#7a2a16"/>
<rect x="231.1" y="132.8" width="5.0" height="33.2" fill="#c05a30"/>
<rect x="236.9" y="131.9" width="3.0" height="34.1" fill="#c8b088"/>
<rect x="239.9" y="129.2" width="6.0" height="36.8" fill="#5a3e24"/>
<rect x="246.7" y="128.8" width="7.0" height="37.2" fill="#7a5a3a"/>
<rect x="253.7" y="129.1" width="6.0" height="36.9" fill="#4a3220"/>
<rect x="259.7" y="132.3" width="6.0" height="33.7" fill="#9a4e28"/>
<rect x="265.7" y="131.8" width="7.0" height="34.2" fill="#d8c49a"/>
<rect x="272.7" y="137.7" width="5.0" height="28.3" fill="#d0b890"/>
<rect x="277.7" y="134.1" width="4.0" height="31.9" fill="#bca47c"/>
<rect x="281.7" y="130.9" width="5.0" height="35.1" fill="#b08a58"/>
<rect x="286.7" y="130.5" width="3.0" height="35.5" fill="#d0b890"/>
<rect x="290.5" y="135.6" width="7.0" height="30.4" fill="#d0b890"/>
<rect x="297.5" y="129.1" width="3.0" height="36.9" fill="#2e3248"/>
<rect x="300.5" y="132.3" width="4.0" height="33.7" fill="#a83a26"/>
<rect x="304.5" y="133.7" width="6.0" height="32.3" fill="#8a6a44"/>
<rect x="310.5" y="133.0" width="5.0" height="33.0" fill="#a83a26"/>
<rect x="315.5" y="136.6" width="6.5" height="29.4" fill="#4a3220"/>
<ellipse cx="271" cy="150" rx="18" ry="12" fill="#a8946e"/>
<ellipse cx="271" cy="150" rx="14" ry="9" fill="#bca680"/>
<circle cx="248" cy="160" r="6" fill="#3a3020"/>
<rect x="170" y="166" width="160" height="8" fill="#964a1e"/>
<rect x="170" y="171.5" width="160" height="2.5" fill="#542810"/>
<rect x="258" y="176" width="66" height="59" fill="#361a0a"/>
<rect x="259.0" y="183.5" width="5.0" height="51.5" fill="#4a3220"/>
<rect x="264.0" y="179.0" width="4.0" height="56.0" fill="#3a2616"/>
<rect x="268.0" y="190.9" width="7.0" height="44.1" fill="#3a5236"/>
<rect x="275.0" y="188.7" width="5.0" height="46.3" fill="#8a6a44"/>
<rect x="280.0" y="189.8" width="4.0" height="45.2" fill="#d0b890"/>
<rect x="284.0" y="183.6" width="2.5" height="51.4" fill="#c4a878"/>
<rect x="286.5" y="186.5" width="5.0" height="48.5" fill="#b08a58"/>
<rect x="291.5" y="184.9" width="4.0" height="50.1" fill="#c8b088"/>
<rect x="295.5" y="184.7" width="4.0" height="50.3" fill="#9a4e28"/>
<rect x="300.3" y="187.5" width="7.0" height="47.5" fill="#a87c4e"/>
<rect x="307.3" y="182.0" width="7.0" height="53.0" fill="#c8b088"/>
<rect x="314.3" y="181.1" width="7.0" height="53.9" fill="#8a6a44"/>
<rect x="322.1" y="181.9" width="1.9" height="53.1" fill="#bca47c"/>
<rect x="270" y="182" width="6" height="53" fill="#c23a22"/>
<rect x="170" y="235" width="160" height="7" fill="#964a1e"/>
<rect x="170" y="239.5" width="160" height="2.5" fill="#542810"/>
<rect x="262" y="242" width="70" height="55" fill="#3a2818"/>
<ellipse cx="300" cy="275" rx="24" ry="22" fill="#28221e"/>
<path d="M275 270 Q300 260 325 268" stroke="#8a7a60" stroke-width="2" fill="none"/>
<rect x="266" y="292" width="70" height="45" fill="#7a6c5a"/>
<rect x="322" y="0" width="10" height="245" fill="#7a3e18" opacity="0.7"/>
<path d="M98 92 C94 60 110 36 142 33 C176 30 204 40 212 66 C220 92 216 122 206 142 C200 154 190 160 178 160 L122 158 C106 150 99 130 98 110 Z" fill="#5a2c12"/>
<g filter="url(#hairtex)"><path d="M98 92 C94 60 110 36 142 33 C176 30 204 40 212 66 C220 92 216 122 206 142 C200 154 190 160 178 160 L122 158 C106 150 99 130 98 110 Z" fill="#fff"/></g>
<path d="M132 120 L182 120 L180 165 L134 165 Z" fill="#d89064"/>
<path d="M134 128 Q158 146 180 126 L180 136 Q158 154 134 140 Z" fill="#b8764a" opacity="0.35"/>
<path d="M120 90 C118 60 134 50 156 50 C180 50 194 62 192 92 C191 114 182 130 158 134 C134 132 122 116 120 90 Z" fill="url(#face)"/>
<path d="M128 78 Q140 72 152 77" stroke="#9a5a34" stroke-width="2" fill="none" opacity="0.7"/><path d="M162 77 Q174 72 186 78" stroke="#9a5a34" stroke-width="2" fill="none" opacity="0.7"/>
<g fill="none" stroke="#f8e8d0" stroke-width="1.2" opacity="0.55"><path d="M126 82 Q140 76 152 81 Q152 93 140 95 Q128 93 126 82 Z"/><path d="M161 81 Q174 76 187 82 Q186 93 174 95 Q162 93 161 81 Z"/><path d="M152 82 L161 82"/></g>
<circle cx="140" cy="86" r="2" fill="#5a3a28" opacity="0.6"/><circle cx="173" cy="86" r="2" fill="#5a3a28" opacity="0.6"/>
<path d="M157 88 L153 99 Q157 102 162 100" stroke="#b06a40" stroke-width="1.5" fill="none"/>
<path d="M146 108 Q157 105 169 108" stroke="#8a4424" stroke-width="2" fill="none"/>
<path d="M144 118 Q158 124 172 118 Q168 131 158 134 Q148 131 144 118 Z" fill="#8a5030" opacity="0.5"/>
<path d="M56 335 L57 230 C58 200 64 180 84 172 L132 156 L182 156 L236 170 C252 176 262 190 266 215 L272 252 L290 290 L294 335 Z" fill="url(#shirt)"/>
<path d="M134 156 L150 180 L162 192 L174 176 L182 156 Z" fill="#d89064"/>
<path d="M132 156 L116 178 L140 196 L160 196 Z" fill="#b0c0d4"/>
<path d="M182 156 L205 170 L190 196 L162 196 Z" fill="#b0c0d4"/>
<path d="M150 190 L176 186 L168 215 L156 212 Z" fill="#3a4a72"/>
<path d="M64 204 L98 244" stroke="#4a5878" stroke-width="1.6"/>
<path d="M88 176 L130 172 L152 240 L100 252 Z" fill="#7e94b8"/>
<g filter="url(#shirttex)" opacity="0.7"><path d="M88 176 L130 172 L152 240 L100 252 Z" fill="#fff"/></g>
<path d="M184 172 L238 176 L252 212 L200 216 Z" fill="#7e94b8"/>
<g filter="url(#shirttex)" opacity="0.7"><path d="M184 172 L238 176 L252 212 L200 216 Z" fill="#fff"/></g>
<path d="M116 246 C128 232 152 232 166 250 C176 270 176 300 166 320 L118 320 C108 300 108 266 116 246 Z" fill="#6a80ac"/>
<g filter="url(#shirttex)" opacity="0.7"><path d="M116 246 C128 232 152 232 166 250 C176 270 176 300 166 320 L118 320 C108 300 108 266 116 246 Z" fill="#fff"/></g>
<path d="M170 240 C186 228 206 238 214 262 C220 286 214 306 202 316 L172 316 C166 292 164 262 170 240 Z" fill="#5a6e9c"/>
<g filter="url(#shirttex)" opacity="0.7"><path d="M170 240 C186 228 206 238 214 262 C220 286 214 306 202 316 L172 316 C166 292 164 262 170 240 Z" fill="#fff"/></g>
<path d="M196 215 L206 200 L216 235 L206 260 Z" fill="#3e4e76"/>
<path d="M212 232 L234 226 L236 268 L216 272 Z" fill="#5e78a6"/>
<path d="M153.8 287.1 q7.8 -2.4 1.2 5.2" stroke="#e0e8f4" stroke-width="1.7" fill="none" opacity="0.85"/>
<path d="M153.8 247.0 q6.0 -5.9 -10.0 2.5" stroke="#2a3a62" stroke-width="2.2" fill="none" opacity="0.85"/>
<path d="M163.0 299.3 q-7.9 -2.7 9.9 3.1" stroke="#1c2644" stroke-width="1.8" fill="none" opacity="0.85"/>
<path d="M192.1 263.6 q6.1 -3.9 3.8 -1.1" stroke="#eef2fa" stroke-width="1.6" fill="none" opacity="0.85"/>
<path d="M160.8 282.8 q6.4 2.6 -5.3 2.0" stroke="#1c2644" stroke-width="1.7" fill="none" opacity="0.85"/>
<path d="M139.5 309.7 q3.7 0.2 -10.0 6.4" stroke="#eef2fa" stroke-width="1.6" fill="none" opacity="0.85"/>
<path d="M156.4 267.9 q-4.9 0.9 7.1 2.1" stroke="#e0e8f4" stroke-width="1.4" fill="none" opacity="0.85"/>
<path d="M191.6 303.4 q-3.5 -6.7 0.4 2.2" stroke="#1c2644" stroke-width="2.4" fill="none" opacity="0.85"/>
<path d="M181.2 297.9 q-7.0 0.7 6.9 -4.7" stroke="#eef2fa" stroke-width="1.5" fill="none" opacity="0.85"/>
<path d="M128.2 262.6 q-7.6 2.1 -9.7 6.2" stroke="#2a3a62" stroke-width="1.5" fill="none" opacity="0.85"/>
<path d="M139.4 295.1 q0.3 3.7 -2.5 -0.9" stroke="#1c2644" stroke-width="2.0" fill="none" opacity="0.85"/>
<path d="M165.9 278.7 q3.5 2.9 10.0 0.2" stroke="#1c2644" stroke-width="2.2" fill="none" opacity="0.85"/>
<path d="M196.2 300.0 q6.2 6.4 3.4 1.9" stroke="#eef2fa" stroke-width="2.2" fill="none" opacity="0.85"/>
<path d="M158.9 270.3 q-5.7 3.4 11.8 -0.4" stroke="#e0e8f4" stroke-width="1.6" fill="none" opacity="0.85"/>
<path d="M155.8 278.1 q-3.6 5.4 -0.7 5.0" stroke="#1c2644" stroke-width="2.0" fill="none" opacity="0.85"/>
<path d="M193.3 252.9 q-7.0 -0.6 2.0 7.6" stroke="#eef2fa" stroke-width="1.6" fill="none" opacity="0.85"/>
<path d="M137.2 265.9 q1.4 1.4 -0.7 1.6" stroke="#2a3a62" stroke-width="1.4" fill="none" opacity="0.85"/>
<path d="M145.3 252.4 q4.1 -2.6 1.2 6.3" stroke="#2a3a62" stroke-width="2.2" fill="none" opacity="0.85"/>
<path d="M165.0 269.0 q7.3 2.2 6.5 -4.6" stroke="#e0e8f4" stroke-width="1.7" fill="none" opacity="0.85"/>
<path d="M139.1 249.7 q4.8 6.7 7.1 5.6" stroke="#eef2fa" stroke-width="2.0" fill="none" opacity="0.85"/>
<path d="M141.0 240.8 q-0.4 -1.8 7.1 4.7" stroke="#e0e8f4" stroke-width="1.7" fill="none" opacity="0.85"/>
<path d="M192.9 250.4 q6.5 4.3 -8.9 5.1" stroke="#1c2644" stroke-width="1.8" fill="none" opacity="0.85"/>
<path d="M123.1 281.2 q-5.1 -4.1 10.0 -3.8" stroke="#e0e8f4" stroke-width="1.3" fill="none" opacity="0.85"/>
<path d="M144.2 291.6 q-6.4 -0.3 -0.8 8.3" stroke="#1c2644" stroke-width="1.2" fill="none" opacity="0.85"/>
<path d="M136.2 253.9 q2.9 3.9 -1.4 -5.4" stroke="#2a3a62" stroke-width="1.8" fill="none" opacity="0.85"/>
<path d="M133.3 299.9 q-3.0 -2.6 -10.2 -1.4" stroke="#2a3a62" stroke-width="2.0" fill="none" opacity="0.85"/>
<path d="M124.5 245.4 q-5.8 2.3 4.2 5.2" stroke="#eef2fa" stroke-width="2.0" fill="none" opacity="0.85"/>
<path d="M119.2 267.2 q3.4 -3.7 1.5 0.9" stroke="#eef2fa" stroke-width="2.2" fill="none" opacity="0.85"/>
<path d="M199.9 291.8 q6.4 -4.9 3.1 8.1" stroke="#1c2644" stroke-width="2.3" fill="none" opacity="0.85"/>
<path d="M191.2 280.0 q-6.6 -4.4 -3.0 -4.4" stroke="#1c2644" stroke-width="2.3" fill="none" opacity="0.85"/>
<path d="M172.6 292.1 q-2.7 4.6 -9.8 -3.9" stroke="#eef2fa" stroke-width="1.4" fill="none" opacity="0.85"/>
<path d="M179.1 252.9 q-4.9 -6.5 -0.9 4.6" stroke="#eef2fa" stroke-width="1.5" fill="none" opacity="0.85"/>
<path d="M133.2 248.9 q-1.5 -6.0 10.1 0.4" stroke="#e0e8f4" stroke-width="2.0" fill="none" opacity="0.85"/>
<path d="M192.4 299.1 q-1.8 -2.4 -2.1 -5.8" stroke="#2a3a62" stroke-width="1.9" fill="none" opacity="0.85"/>
<path d="M148.8 296.8 q-4.1 6.8 0.7 -2.1" stroke="#e0e8f4" stroke-width="1.6" fill="none" opacity="0.85"/>
<path d="M181.1 247.7 q-2.0 0.1 6.9 6.4" stroke="#e0e8f4" stroke-width="1.5" fill="none" opacity="0.85"/>
<path d="M170.3 261.5 q-4.3 1.6 0.3 2.6" stroke="#e0e8f4" stroke-width="2.4" fill="none" opacity="0.85"/>
<path d="M168.1 291.5 q5.4 -4.2 10.7 3.4" stroke="#e0e8f4" stroke-width="2.1" fill="none" opacity="0.85"/>
<path d="M131.2 274.4 q-1.3 -2.3 -9.8 7.1" stroke="#1c2644" stroke-width="1.8" fill="none" opacity="0.85"/>
<path d="M130.0 310.1 q-5.8 5.7 1.0 2.4" stroke="#1c2644" stroke-width="1.4" fill="none" opacity="0.85"/>
<path d="M190.3 304.6 q-2.6 -5.0 10.4 -5.9" stroke="#1c2644" stroke-width="1.5" fill="none" opacity="0.85"/>
<path d="M173.6 299.8 q-5.0 0.7 -10.2 -5.5" stroke="#e0e8f4" stroke-width="2.1" fill="none" opacity="0.85"/>
<path d="M208.2 311.9 q-5.8 3.6 8.3 7.6" stroke="#eef2fa" stroke-width="1.4" fill="none" opacity="0.85"/>
<path d="M158.0 242.4 q0.4 -5.3 -2.3 -1.0" stroke="#e0e8f4" stroke-width="1.5" fill="none" opacity="0.85"/>
<path d="M173.1 263.9 q2.3 -6.5 4.1 -3.8" stroke="#2a3a62" stroke-width="1.9" fill="none" opacity="0.85"/>
<path d="M163.6 269.6 q2.0 2.7 6.2 5.3" stroke="#2a3a62" stroke-width="2.3" fill="none" opacity="0.85"/>
<path d="M163.0 305.2 q3.0 4.6 -9.2 -4.3" stroke="#1c2644" stroke-width="1.8" fill="none" opacity="0.85"/>
<path d="M159.9 305.1 q-2.9 -6.2 5.4 7.5" stroke="#2a3a62" stroke-width="1.9" fill="none" opacity="0.85"/>
<path d="M190.9 261.9 q1.5 -6.0 -9.0 0.7" stroke="#2a3a62" stroke-width="2.4" fill="none" opacity="0.85"/>
<path d="M164.1 247.6 q6.6 0.6 3.8 8.1" stroke="#eef2fa" stroke-width="2.4" fill="none" opacity="0.85"/>
<path d="M188.9 302.7 q-2.1 0.6 1.5 -3.5" stroke="#2a3a62" stroke-width="1.9" fill="none" opacity="0.85"/>
<path d="M205.6 247.1 q4.7 -5.3 0.9 8.3" stroke="#eef2fa" stroke-width="1.6" fill="none" opacity="0.85"/>
<path d="M188.6 241.7 q-5.2 -0.8 -1.2 2.0" stroke="#e0e8f4" stroke-width="1.6" fill="none" opacity="0.85"/>
<path d="M174.8 243.3 q-7.5 5.6 -4.6 1.5" stroke="#2a3a62" stroke-width="2.3" fill="none" opacity="0.85"/>
<path d="M137.7 301.8 q3.1 -6.2 -4.4 6.9" stroke="#2a3a62" stroke-width="1.2" fill="none" opacity="0.85"/>
<path d="M200 232 Q192 250 204 262 Q196 280 206 300" stroke="#1a2036" stroke-width="3" fill="none"/>
<path d="M126 172 L118 230 L112 288" stroke="#1e2438" stroke-width="2" fill="none"/>
<path d="M206 162 L208 230 L206 290" stroke="#1e2438" stroke-width="2" fill="none"/>
<path d="M240 180 L262 210 L268 250 L286 290" stroke="#4a5a80" stroke-width="1.4" fill="none"/>
<path d="M58 304 C100 300 140 302 170 306 C210 304 245 302 268 306 L272 335 L56 335 Z" fill="#eeac7a"/>
<path d="M150 308 C175 304 200 312 225 330 L160 335 Z" fill="#d28c5a" opacity="0.7"/>
<path d="M58 316 C90 312 120 314 150 318" stroke="#c88050" stroke-width="1.5" fill="none" opacity="0.6"/>
</g></g></svg>
</body></html>
